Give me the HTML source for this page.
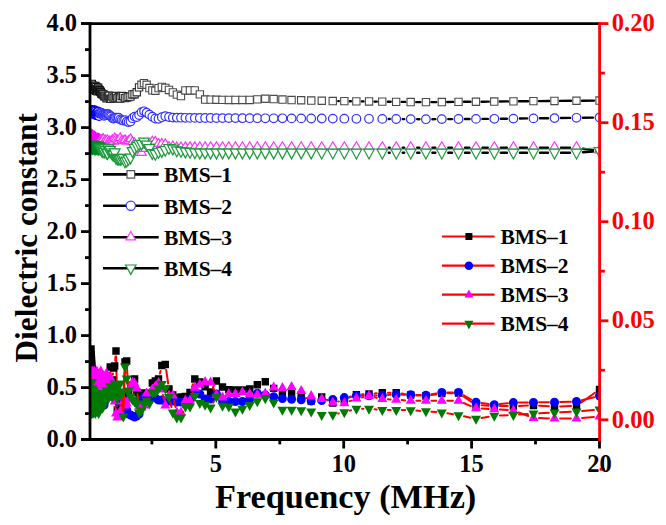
<!DOCTYPE html><html><head><meta charset="utf-8"><style>html,body{margin:0;padding:0;background:#fff;}body{width:666px;height:525px;overflow:hidden}svg{display:block}text{font-family:"Liberation Serif",serif;font-weight:bold}</style></head><body>
<svg width="666" height="525" viewBox="0 0 666 525">
<rect width="666" height="525" fill="#fff"/><defs><clipPath id="pc"><rect x="89.8" y="0" width="509.8" height="525"/></clipPath></defs><g clip-path="url(#pc)">
<path d="M338.3,101.1L338.8,101.1M349.8,101.3L350.9,101.3M361.9,101.4L363.5,101.4M374.5,101.6L376.8,101.6M387.8,101.7L390.7,101.8M401.7,101.9L405.2,101.9M416.2,102.1L420.4,102.1M431.4,102.1L436.3,102.1M447.3,102.0L453.0,101.9M464.0,101.8L470.5,101.8M481.5,101.7L488.8,101.6M499.8,101.5L507.9,101.4M518.9,101.3L528.0,101.2M539.0,101.1L549.0,101.0M560.0,100.9L571.0,100.8M582.0,100.7L594.0,100.6" fill="none" stroke="#000" stroke-width="2.4" stroke-linecap="round"/>
<path d="M87.3,82.6h7.3v7.3h-7.3z" fill="#fff" stroke="#111" stroke-width="1.1"/><path d="M87.5,80.8h7.3v7.3h-7.3z" fill="#fff" stroke="#111" stroke-width="1.1"/><path d="M87.6,82.0h7.3v7.3h-7.3z" fill="#fff" stroke="#111" stroke-width="1.1"/><path d="M87.8,84.0h7.3v7.3h-7.3z" fill="#fff" stroke="#111" stroke-width="1.1"/><path d="M88.0,81.3h7.3v7.3h-7.3z" fill="#fff" stroke="#111" stroke-width="1.1"/><path d="M88.1,80.3h7.3v7.3h-7.3z" fill="#fff" stroke="#111" stroke-width="1.1"/><path d="M88.3,83.1h7.3v7.3h-7.3z" fill="#fff" stroke="#111" stroke-width="1.1"/><path d="M88.5,82.8h7.3v7.3h-7.3z" fill="#fff" stroke="#111" stroke-width="1.1"/><path d="M88.7,84.5h7.3v7.3h-7.3z" fill="#fff" stroke="#111" stroke-width="1.1"/><path d="M88.9,84.8h7.3v7.3h-7.3z" fill="#fff" stroke="#111" stroke-width="1.1"/><path d="M89.1,83.4h7.3v7.3h-7.3z" fill="#fff" stroke="#111" stroke-width="1.1"/><path d="M89.4,82.0h7.3v7.3h-7.3z" fill="#fff" stroke="#111" stroke-width="1.1"/><path d="M89.6,84.0h7.3v7.3h-7.3z" fill="#fff" stroke="#111" stroke-width="1.1"/><path d="M89.9,84.8h7.3v7.3h-7.3z" fill="#fff" stroke="#111" stroke-width="1.1"/><path d="M90.1,82.9h7.3v7.3h-7.3z" fill="#fff" stroke="#111" stroke-width="1.1"/><path d="M90.4,85.6h7.3v7.3h-7.3z" fill="#fff" stroke="#111" stroke-width="1.1"/><path d="M90.7,84.6h7.3v7.3h-7.3z" fill="#fff" stroke="#111" stroke-width="1.1"/><path d="M91.0,84.9h7.3v7.3h-7.3z" fill="#fff" stroke="#111" stroke-width="1.1"/><path d="M91.3,83.2h7.3v7.3h-7.3z" fill="#fff" stroke="#111" stroke-width="1.1"/><path d="M91.6,82.3h7.3v7.3h-7.3z" fill="#fff" stroke="#111" stroke-width="1.1"/><path d="M92.0,86.2h7.3v7.3h-7.3z" fill="#fff" stroke="#111" stroke-width="1.1"/><path d="M92.4,87.2h7.3v7.3h-7.3z" fill="#fff" stroke="#111" stroke-width="1.1"/><path d="M92.7,83.4h7.3v7.3h-7.3z" fill="#fff" stroke="#111" stroke-width="1.1"/><path d="M93.1,85.9h7.3v7.3h-7.3z" fill="#fff" stroke="#111" stroke-width="1.1"/><path d="M93.6,85.8h7.3v7.3h-7.3z" fill="#fff" stroke="#111" stroke-width="1.1"/><path d="M94.0,87.7h7.3v7.3h-7.3z" fill="#fff" stroke="#111" stroke-width="1.1"/><path d="M94.5,84.1h7.3v7.3h-7.3z" fill="#fff" stroke="#111" stroke-width="1.1"/><path d="M94.9,85.9h7.3v7.3h-7.3z" fill="#fff" stroke="#111" stroke-width="1.1"/><path d="M95.4,87.2h7.3v7.3h-7.3z" fill="#fff" stroke="#111" stroke-width="1.1"/><path d="M96.0,86.6h7.3v7.3h-7.3z" fill="#fff" stroke="#111" stroke-width="1.1"/><path d="M96.5,87.7h7.3v7.3h-7.3z" fill="#fff" stroke="#111" stroke-width="1.1"/><path d="M97.1,88.4h7.3v7.3h-7.3z" fill="#fff" stroke="#111" stroke-width="1.1"/><path d="M97.7,89.9h7.3v7.3h-7.3z" fill="#fff" stroke="#111" stroke-width="1.1"/><path d="M98.3,90.4h7.3v7.3h-7.3z" fill="#fff" stroke="#111" stroke-width="1.1"/><path d="M99.0,90.5h7.3v7.3h-7.3z" fill="#fff" stroke="#111" stroke-width="1.1"/><path d="M99.7,90.7h7.3v7.3h-7.3z" fill="#fff" stroke="#111" stroke-width="1.1"/><path d="M100.4,92.6h7.3v7.3h-7.3z" fill="#fff" stroke="#2a2a2a" stroke-width="1.1"/><path d="M101.2,92.1h7.3v7.3h-7.3z" fill="#fff" stroke="#2a2a2a" stroke-width="1.1"/><path d="M102.0,92.8h7.3v7.3h-7.3z" fill="#fff" stroke="#2a2a2a" stroke-width="1.1"/><path d="M102.8,94.6h7.3v7.3h-7.3z" fill="#fff" stroke="#2a2a2a" stroke-width="1.1"/><path d="M103.7,93.5h7.3v7.3h-7.3z" fill="#fff" stroke="#2a2a2a" stroke-width="1.1"/><path d="M104.6,92.1h7.3v7.3h-7.3z" fill="#fff" stroke="#2a2a2a" stroke-width="1.1"/><path d="M105.6,92.3h7.3v7.3h-7.3z" fill="#fff" stroke="#2a2a2a" stroke-width="1.1"/><path d="M106.6,95.1h7.3v7.3h-7.3z" fill="#fff" stroke="#2a2a2a" stroke-width="1.1"/><path d="M107.6,95.2h7.3v7.3h-7.3z" fill="#fff" stroke="#2a2a2a" stroke-width="1.1"/><path d="M108.7,93.0h7.3v7.3h-7.3z" fill="#fff" stroke="#2a2a2a" stroke-width="1.1"/><path d="M109.9,94.5h7.3v7.3h-7.3z" fill="#fff" stroke="#2a2a2a" stroke-width="1.1"/><path d="M111.1,93.7h7.3v7.3h-7.3z" fill="#fff" stroke="#2a2a2a" stroke-width="1.1"/><path d="M112.4,92.4h7.3v7.3h-7.3z" fill="#fff" stroke="#2a2a2a" stroke-width="1.1"/><path d="M113.7,94.6h7.3v7.3h-7.3z" fill="#fff" stroke="#2a2a2a" stroke-width="1.1"/><path d="M115.1,93.6h7.3v7.3h-7.3z" fill="#fff" stroke="#2a2a2a" stroke-width="1.1"/><path d="M116.5,94.8h7.3v7.3h-7.3z" fill="#fff" stroke="#2a2a2a" stroke-width="1.1"/><path d="M118.1,92.3h7.3v7.3h-7.3z" fill="#fff" stroke="#2a2a2a" stroke-width="1.1"/><path d="M119.6,92.5h7.3v7.3h-7.3z" fill="#fff" stroke="#2a2a2a" stroke-width="1.1"/><path d="M121.3,94.5h7.3v7.3h-7.3z" fill="#fff" stroke="#2a2a2a" stroke-width="1.1"/><path d="M123.1,94.0h7.3v7.3h-7.3z" fill="#fff" stroke="#2a2a2a" stroke-width="1.1"/><path d="M124.9,93.3h7.3v7.3h-7.3z" fill="#fff" stroke="#2a2a2a" stroke-width="1.1"/><path d="M126.8,93.0h7.3v7.3h-7.3z" fill="#fff" stroke="#2a2a2a" stroke-width="1.1"/><path d="M128.8,90.8h7.3v7.3h-7.3z" fill="#fff" stroke="#2a2a2a" stroke-width="1.1"/><path d="M130.9,90.6h7.3v7.3h-7.3z" fill="#fff" stroke="#2a2a2a" stroke-width="1.1"/><path d="M133.1,88.6h7.3v7.3h-7.3z" fill="#fff" stroke="#2a2a2a" stroke-width="1.1"/><path d="M135.4,83.7h7.3v7.3h-7.3z" fill="#fff" stroke="#2a2a2a" stroke-width="1.1"/><path d="M137.8,81.1h7.3v7.3h-7.3z" fill="#fff" stroke="#4a4a4a" stroke-width="1.1"/><path d="M140.3,79.5h7.3v7.3h-7.3z" fill="#fff" stroke="#4a4a4a" stroke-width="1.1"/><path d="M143.0,81.1h7.3v7.3h-7.3z" fill="#fff" stroke="#4a4a4a" stroke-width="1.1"/><path d="M145.8,84.4h7.3v7.3h-7.3z" fill="#fff" stroke="#4a4a4a" stroke-width="1.1"/><path d="M148.7,86.7h7.3v7.3h-7.3z" fill="#fff" stroke="#4a4a4a" stroke-width="1.1"/><path d="M151.7,87.1h7.3v7.3h-7.3z" fill="#fff" stroke="#4a4a4a" stroke-width="1.1"/><path d="M154.9,84.5h7.3v7.3h-7.3z" fill="#fff" stroke="#4a4a4a" stroke-width="1.1"/><path d="M158.2,83.2h7.3v7.3h-7.3z" fill="#fff" stroke="#4a4a4a" stroke-width="1.1"/><path d="M161.7,84.2h7.3v7.3h-7.3z" fill="#fff" stroke="#4a4a4a" stroke-width="1.1"/><path d="M165.3,86.3h7.3v7.3h-7.3z" fill="#fff" stroke="#4a4a4a" stroke-width="1.1"/><path d="M169.2,88.7h7.3v7.3h-7.3z" fill="#fff" stroke="#4a4a4a" stroke-width="1.1"/><path d="M173.2,91.0h7.3v7.3h-7.3z" fill="#fff" stroke="#4a4a4a" stroke-width="1.1"/><path d="M177.3,92.4h7.3v7.3h-7.3z" fill="#fff" stroke="#4a4a4a" stroke-width="1.1"/><path d="M181.7,86.8h7.3v7.3h-7.3z" fill="#fff" stroke="#4a4a4a" stroke-width="1.1"/><path d="M186.3,86.8h7.3v7.3h-7.3z" fill="#fff" stroke="#4a4a4a" stroke-width="1.1"/><path d="M191.1,86.8h7.3v7.3h-7.3z" fill="#fff" stroke="#4a4a4a" stroke-width="1.1"/><path d="M196.2,90.7h7.3v7.3h-7.3z" fill="#fff" stroke="#4a4a4a" stroke-width="1.1"/><path d="M201.5,95.9h7.3v7.3h-7.3z" fill="#fff" stroke="#4a4a4a" stroke-width="1.1"/><path d="M207.0,96.0h7.3v7.3h-7.3z" fill="#fff" stroke="#4a4a4a" stroke-width="1.1"/><path d="M212.8,96.1h7.3v7.3h-7.3z" fill="#fff" stroke="#4a4a4a" stroke-width="1.1"/><path d="M218.8,96.2h7.3v7.3h-7.3z" fill="#fff" stroke="#4a4a4a" stroke-width="1.1"/><path d="M225.2,96.3h7.3v7.3h-7.3z" fill="#fff" stroke="#4a4a4a" stroke-width="1.1"/><path d="M231.8,96.3h7.3v7.3h-7.3z" fill="#fff" stroke="#4a4a4a" stroke-width="1.1"/><path d="M238.8,96.3h7.3v7.3h-7.3z" fill="#fff" stroke="#4a4a4a" stroke-width="1.1"/><path d="M246.0,96.3h7.3v7.3h-7.3z" fill="#fff" stroke="#4a4a4a" stroke-width="1.1"/><path d="M253.7,95.7h7.3v7.3h-7.3z" fill="#fff" stroke="#4a4a4a" stroke-width="1.1"/><path d="M261.6,95.1h7.3v7.3h-7.3z" fill="#fff" stroke="#4a4a4a" stroke-width="1.1"/><path d="M270.0,95.4h7.3v7.3h-7.3z" fill="#fff" stroke="#4a4a4a" stroke-width="1.1"/><path d="M278.8,95.9h7.3v7.3h-7.3z" fill="#fff" stroke="#4a4a4a" stroke-width="1.1"/><path d="M287.9,96.4h7.3v7.3h-7.3z" fill="#fff" stroke="#4a4a4a" stroke-width="1.1"/><path d="M297.5,96.6h7.3v7.3h-7.3z" fill="#fff" stroke="#4a4a4a" stroke-width="1.1"/><path d="M307.6,96.9h7.3v7.3h-7.3z" fill="#fff" stroke="#4a4a4a" stroke-width="1.1"/><path d="M318.1,97.1h7.3v7.3h-7.3z" fill="#fff" stroke="#4a4a4a" stroke-width="1.1"/><path d="M329.1,97.4h7.3v7.3h-7.3z" fill="#fff" stroke="#4a4a4a" stroke-width="1.1"/><path d="M340.7,97.5h7.3v7.3h-7.3z" fill="#fff" stroke="#4a4a4a" stroke-width="1.1"/><path d="M352.7,97.7h7.3v7.3h-7.3z" fill="#fff" stroke="#4a4a4a" stroke-width="1.1"/><path d="M365.4,97.8h7.3v7.3h-7.3z" fill="#fff" stroke="#4a4a4a" stroke-width="1.1"/><path d="M378.6,98.0h7.3v7.3h-7.3z" fill="#fff" stroke="#4a4a4a" stroke-width="1.1"/><path d="M392.5,98.2h7.3v7.3h-7.3z" fill="#fff" stroke="#4a4a4a" stroke-width="1.1"/><path d="M407.0,98.4h7.3v7.3h-7.3z" fill="#fff" stroke="#4a4a4a" stroke-width="1.1"/><path d="M422.3,98.5h7.3v7.3h-7.3z" fill="#fff" stroke="#4a4a4a" stroke-width="1.1"/><path d="M438.2,98.4h7.3v7.3h-7.3z" fill="#fff" stroke="#4a4a4a" stroke-width="1.1"/><path d="M454.9,98.2h7.3v7.3h-7.3z" fill="#fff" stroke="#4a4a4a" stroke-width="1.1"/><path d="M472.3,98.1h7.3v7.3h-7.3z" fill="#fff" stroke="#4a4a4a" stroke-width="1.1"/><path d="M490.6,97.9h7.3v7.3h-7.3z" fill="#fff" stroke="#4a4a4a" stroke-width="1.1"/><path d="M509.8,97.7h7.3v7.3h-7.3z" fill="#fff" stroke="#4a4a4a" stroke-width="1.1"/><path d="M529.8,97.5h7.3v7.3h-7.3z" fill="#fff" stroke="#4a4a4a" stroke-width="1.1"/><path d="M550.8,97.3h7.3v7.3h-7.3z" fill="#fff" stroke="#4a4a4a" stroke-width="1.1"/><path d="M572.8,97.1h7.3v7.3h-7.3z" fill="#fff" stroke="#4a4a4a" stroke-width="1.1"/><path d="M595.9,96.9h7.3v7.3h-7.3z" fill="#fff" stroke="#4a4a4a" stroke-width="1.1"/>
<path d="M388.8,119.0L389.7,119.0M402.7,119.1L404.2,119.1M417.2,119.1L419.4,119.2M432.4,119.2L435.3,119.1M448.3,119.1L452.0,119.1M465.0,119.0L469.5,119.0M482.5,118.9L487.8,118.9M500.8,118.8L506.9,118.7M519.9,118.5L527.0,118.4M540.0,118.3L548.0,118.2M561.0,118.0L570.0,117.9M583.0,117.7L593.0,117.6" fill="none" stroke="#000" stroke-width="2.4" stroke-linecap="round"/>
<path d="M86.7,110.4a4.3,4.3 0 1,0 8.6,0a4.3,4.3 0 1,0 -8.6,0z" fill="#fff" stroke="#0000ff" stroke-width="1.7"/><path d="M86.8,111.7a4.3,4.3 0 1,0 8.6,0a4.3,4.3 0 1,0 -8.6,0z" fill="#fff" stroke="#0000ff" stroke-width="1.7"/><path d="M87.0,112.7a4.3,4.3 0 1,0 8.6,0a4.3,4.3 0 1,0 -8.6,0z" fill="#fff" stroke="#0000ff" stroke-width="1.7"/><path d="M87.1,111.0a4.3,4.3 0 1,0 8.6,0a4.3,4.3 0 1,0 -8.6,0z" fill="#fff" stroke="#0000ff" stroke-width="1.7"/><path d="M87.3,110.5a4.3,4.3 0 1,0 8.6,0a4.3,4.3 0 1,0 -8.6,0z" fill="#fff" stroke="#0000ff" stroke-width="1.7"/><path d="M87.5,112.8a4.3,4.3 0 1,0 8.6,0a4.3,4.3 0 1,0 -8.6,0z" fill="#fff" stroke="#0000ff" stroke-width="1.7"/><path d="M87.7,112.8a4.3,4.3 0 1,0 8.6,0a4.3,4.3 0 1,0 -8.6,0z" fill="#fff" stroke="#0000ff" stroke-width="1.7"/><path d="M87.9,110.2a4.3,4.3 0 1,0 8.6,0a4.3,4.3 0 1,0 -8.6,0z" fill="#fff" stroke="#0000ff" stroke-width="1.7"/><path d="M88.1,112.7a4.3,4.3 0 1,0 8.6,0a4.3,4.3 0 1,0 -8.6,0z" fill="#fff" stroke="#0000ff" stroke-width="1.7"/><path d="M88.3,111.1a4.3,4.3 0 1,0 8.6,0a4.3,4.3 0 1,0 -8.6,0z" fill="#fff" stroke="#0000ff" stroke-width="1.7"/><path d="M88.5,113.3a4.3,4.3 0 1,0 8.6,0a4.3,4.3 0 1,0 -8.6,0z" fill="#fff" stroke="#0000ff" stroke-width="1.7"/><path d="M88.7,111.2a4.3,4.3 0 1,0 8.6,0a4.3,4.3 0 1,0 -8.6,0z" fill="#fff" stroke="#0000ff" stroke-width="1.7"/><path d="M89.0,111.5a4.3,4.3 0 1,0 8.6,0a4.3,4.3 0 1,0 -8.6,0z" fill="#fff" stroke="#0000ff" stroke-width="1.7"/><path d="M89.2,111.2a4.3,4.3 0 1,0 8.6,0a4.3,4.3 0 1,0 -8.6,0z" fill="#fff" stroke="#0000ff" stroke-width="1.7"/><path d="M89.5,112.6a4.3,4.3 0 1,0 8.6,0a4.3,4.3 0 1,0 -8.6,0z" fill="#fff" stroke="#0000ff" stroke-width="1.7"/><path d="M89.8,112.9a4.3,4.3 0 1,0 8.6,0a4.3,4.3 0 1,0 -8.6,0z" fill="#fff" stroke="#0000ff" stroke-width="1.7"/><path d="M90.0,110.1a4.3,4.3 0 1,0 8.6,0a4.3,4.3 0 1,0 -8.6,0z" fill="#fff" stroke="#0000ff" stroke-width="1.7"/><path d="M90.3,114.2a4.3,4.3 0 1,0 8.6,0a4.3,4.3 0 1,0 -8.6,0z" fill="#fff" stroke="#0000ff" stroke-width="1.7"/><path d="M90.7,114.4a4.3,4.3 0 1,0 8.6,0a4.3,4.3 0 1,0 -8.6,0z" fill="#fff" stroke="#0000ff" stroke-width="1.7"/><path d="M91.0,111.4a4.3,4.3 0 1,0 8.6,0a4.3,4.3 0 1,0 -8.6,0z" fill="#fff" stroke="#0000ff" stroke-width="1.7"/><path d="M91.3,113.7a4.3,4.3 0 1,0 8.6,0a4.3,4.3 0 1,0 -8.6,0z" fill="#fff" stroke="#0000ff" stroke-width="1.7"/><path d="M91.7,113.7a4.3,4.3 0 1,0 8.6,0a4.3,4.3 0 1,0 -8.6,0z" fill="#fff" stroke="#0000ff" stroke-width="1.7"/><path d="M92.1,114.6a4.3,4.3 0 1,0 8.6,0a4.3,4.3 0 1,0 -8.6,0z" fill="#fff" stroke="#0000ff" stroke-width="1.7"/><path d="M92.5,113.8a4.3,4.3 0 1,0 8.6,0a4.3,4.3 0 1,0 -8.6,0z" fill="#fff" stroke="#0000ff" stroke-width="1.7"/><path d="M92.9,114.3a4.3,4.3 0 1,0 8.6,0a4.3,4.3 0 1,0 -8.6,0z" fill="#fff" stroke="#0000ff" stroke-width="1.7"/><path d="M93.3,115.0a4.3,4.3 0 1,0 8.6,0a4.3,4.3 0 1,0 -8.6,0z" fill="#fff" stroke="#0000ff" stroke-width="1.7"/><path d="M93.8,111.6a4.3,4.3 0 1,0 8.6,0a4.3,4.3 0 1,0 -8.6,0z" fill="#fff" stroke="#0000ff" stroke-width="1.7"/><path d="M94.3,114.2a4.3,4.3 0 1,0 8.6,0a4.3,4.3 0 1,0 -8.6,0z" fill="#fff" stroke="#0000ff" stroke-width="1.7"/><path d="M94.8,116.0a4.3,4.3 0 1,0 8.6,0a4.3,4.3 0 1,0 -8.6,0z" fill="#fff" stroke="#0000ff" stroke-width="1.2"/><path d="M95.3,113.7a4.3,4.3 0 1,0 8.6,0a4.3,4.3 0 1,0 -8.6,0z" fill="#fff" stroke="#0000ff" stroke-width="1.2"/><path d="M95.9,112.7a4.3,4.3 0 1,0 8.6,0a4.3,4.3 0 1,0 -8.6,0z" fill="#fff" stroke="#3030ff" stroke-width="1.2"/><path d="M96.5,113.4a4.3,4.3 0 1,0 8.6,0a4.3,4.3 0 1,0 -8.6,0z" fill="#fff" stroke="#3030ff" stroke-width="1.2"/><path d="M97.1,112.6a4.3,4.3 0 1,0 8.6,0a4.3,4.3 0 1,0 -8.6,0z" fill="#fff" stroke="#3030ff" stroke-width="1.2"/><path d="M97.7,113.4a4.3,4.3 0 1,0 8.6,0a4.3,4.3 0 1,0 -8.6,0z" fill="#fff" stroke="#3030ff" stroke-width="1.2"/><path d="M98.4,114.5a4.3,4.3 0 1,0 8.6,0a4.3,4.3 0 1,0 -8.6,0z" fill="#fff" stroke="#3030ff" stroke-width="1.2"/><path d="M99.1,114.6a4.3,4.3 0 1,0 8.6,0a4.3,4.3 0 1,0 -8.6,0z" fill="#fff" stroke="#3030ff" stroke-width="1.2"/><path d="M99.8,115.8a4.3,4.3 0 1,0 8.6,0a4.3,4.3 0 1,0 -8.6,0z" fill="#fff" stroke="#3030ff" stroke-width="1.2"/><path d="M100.5,114.5a4.3,4.3 0 1,0 8.6,0a4.3,4.3 0 1,0 -8.6,0z" fill="#fff" stroke="#3030ff" stroke-width="1.2"/><path d="M101.3,114.5a4.3,4.3 0 1,0 8.6,0a4.3,4.3 0 1,0 -8.6,0z" fill="#fff" stroke="#3030ff" stroke-width="1.2"/><path d="M102.2,115.1a4.3,4.3 0 1,0 8.6,0a4.3,4.3 0 1,0 -8.6,0z" fill="#fff" stroke="#3030ff" stroke-width="1.2"/><path d="M103.1,114.0a4.3,4.3 0 1,0 8.6,0a4.3,4.3 0 1,0 -8.6,0z" fill="#fff" stroke="#3030ff" stroke-width="1.2"/><path d="M104.0,114.2a4.3,4.3 0 1,0 8.6,0a4.3,4.3 0 1,0 -8.6,0z" fill="#fff" stroke="#3030ff" stroke-width="1.2"/><path d="M104.9,115.1a4.3,4.3 0 1,0 8.6,0a4.3,4.3 0 1,0 -8.6,0z" fill="#fff" stroke="#3030ff" stroke-width="1.2"/><path d="M105.9,115.9a4.3,4.3 0 1,0 8.6,0a4.3,4.3 0 1,0 -8.6,0z" fill="#fff" stroke="#3030ff" stroke-width="1.2"/><path d="M107.0,116.5a4.3,4.3 0 1,0 8.6,0a4.3,4.3 0 1,0 -8.6,0z" fill="#fff" stroke="#3030ff" stroke-width="1.2"/><path d="M108.1,118.1a4.3,4.3 0 1,0 8.6,0a4.3,4.3 0 1,0 -8.6,0z" fill="#fff" stroke="#3030ff" stroke-width="1.2"/><path d="M109.2,118.6a4.3,4.3 0 1,0 8.6,0a4.3,4.3 0 1,0 -8.6,0z" fill="#fff" stroke="#3030ff" stroke-width="1.2"/><path d="M110.4,118.2a4.3,4.3 0 1,0 8.6,0a4.3,4.3 0 1,0 -8.6,0z" fill="#fff" stroke="#3030ff" stroke-width="1.2"/><path d="M111.7,117.6a4.3,4.3 0 1,0 8.6,0a4.3,4.3 0 1,0 -8.6,0z" fill="#fff" stroke="#3030ff" stroke-width="1.2"/><path d="M113.0,118.1a4.3,4.3 0 1,0 8.6,0a4.3,4.3 0 1,0 -8.6,0z" fill="#fff" stroke="#3030ff" stroke-width="1.2"/><path d="M114.4,117.7a4.3,4.3 0 1,0 8.6,0a4.3,4.3 0 1,0 -8.6,0z" fill="#fff" stroke="#3030ff" stroke-width="1.2"/><path d="M115.9,119.5a4.3,4.3 0 1,0 8.6,0a4.3,4.3 0 1,0 -8.6,0z" fill="#fff" stroke="#3030ff" stroke-width="1.2"/><path d="M117.4,120.1a4.3,4.3 0 1,0 8.6,0a4.3,4.3 0 1,0 -8.6,0z" fill="#fff" stroke="#3030ff" stroke-width="1.2"/><path d="M119.0,120.6a4.3,4.3 0 1,0 8.6,0a4.3,4.3 0 1,0 -8.6,0z" fill="#fff" stroke="#3030ff" stroke-width="1.2"/><path d="M120.7,120.1a4.3,4.3 0 1,0 8.6,0a4.3,4.3 0 1,0 -8.6,0z" fill="#fff" stroke="#3030ff" stroke-width="1.2"/><path d="M122.4,121.6a4.3,4.3 0 1,0 8.6,0a4.3,4.3 0 1,0 -8.6,0z" fill="#fff" stroke="#3030ff" stroke-width="1.2"/><path d="M124.2,122.1a4.3,4.3 0 1,0 8.6,0a4.3,4.3 0 1,0 -8.6,0z" fill="#fff" stroke="#3030ff" stroke-width="1.2"/><path d="M126.2,121.6a4.3,4.3 0 1,0 8.6,0a4.3,4.3 0 1,0 -8.6,0z" fill="#fff" stroke="#3030ff" stroke-width="1.2"/><path d="M128.2,118.2a4.3,4.3 0 1,0 8.6,0a4.3,4.3 0 1,0 -8.6,0z" fill="#fff" stroke="#3030ff" stroke-width="1.2"/><path d="M130.3,116.6a4.3,4.3 0 1,0 8.6,0a4.3,4.3 0 1,0 -8.6,0z" fill="#fff" stroke="#3030ff" stroke-width="1.2"/><path d="M132.5,117.1a4.3,4.3 0 1,0 8.6,0a4.3,4.3 0 1,0 -8.6,0z" fill="#fff" stroke="#3030ff" stroke-width="1.2"/><path d="M134.8,115.0a4.3,4.3 0 1,0 8.6,0a4.3,4.3 0 1,0 -8.6,0z" fill="#fff" stroke="#3030ff" stroke-width="1.2"/><path d="M137.2,112.2a4.3,4.3 0 1,0 8.6,0a4.3,4.3 0 1,0 -8.6,0z" fill="#fff" stroke="#3030ff" stroke-width="1.2"/><path d="M139.7,111.3a4.3,4.3 0 1,0 8.6,0a4.3,4.3 0 1,0 -8.6,0z" fill="#fff" stroke="#3030ff" stroke-width="1.2"/><path d="M142.3,112.7a4.3,4.3 0 1,0 8.6,0a4.3,4.3 0 1,0 -8.6,0z" fill="#fff" stroke="#3030ff" stroke-width="1.2"/><path d="M145.1,114.6a4.3,4.3 0 1,0 8.6,0a4.3,4.3 0 1,0 -8.6,0z" fill="#fff" stroke="#3030ff" stroke-width="1.2"/><path d="M148.0,116.7a4.3,4.3 0 1,0 8.6,0a4.3,4.3 0 1,0 -8.6,0z" fill="#fff" stroke="#3030ff" stroke-width="1.2"/><path d="M151.0,118.5a4.3,4.3 0 1,0 8.6,0a4.3,4.3 0 1,0 -8.6,0z" fill="#fff" stroke="#3030ff" stroke-width="1.2"/><path d="M154.2,118.8a4.3,4.3 0 1,0 8.6,0a4.3,4.3 0 1,0 -8.6,0z" fill="#fff" stroke="#3030ff" stroke-width="1.2"/><path d="M157.5,117.2a4.3,4.3 0 1,0 8.6,0a4.3,4.3 0 1,0 -8.6,0z" fill="#fff" stroke="#3030ff" stroke-width="1.2"/><path d="M161.0,116.2a4.3,4.3 0 1,0 8.6,0a4.3,4.3 0 1,0 -8.6,0z" fill="#fff" stroke="#3030ff" stroke-width="1.2"/><path d="M164.7,117.0a4.3,4.3 0 1,0 8.6,0a4.3,4.3 0 1,0 -8.6,0z" fill="#fff" stroke="#3030ff" stroke-width="1.2"/><path d="M168.5,117.6a4.3,4.3 0 1,0 8.6,0a4.3,4.3 0 1,0 -8.6,0z" fill="#fff" stroke="#3030ff" stroke-width="1.2"/><path d="M172.5,117.7a4.3,4.3 0 1,0 8.6,0a4.3,4.3 0 1,0 -8.6,0z" fill="#fff" stroke="#3030ff" stroke-width="1.2"/><path d="M176.7,117.7a4.3,4.3 0 1,0 8.6,0a4.3,4.3 0 1,0 -8.6,0z" fill="#fff" stroke="#3030ff" stroke-width="1.2"/><path d="M181.1,117.8a4.3,4.3 0 1,0 8.6,0a4.3,4.3 0 1,0 -8.6,0z" fill="#fff" stroke="#3030ff" stroke-width="1.2"/><path d="M185.7,117.9a4.3,4.3 0 1,0 8.6,0a4.3,4.3 0 1,0 -8.6,0z" fill="#fff" stroke="#3030ff" stroke-width="1.2"/><path d="M190.5,117.9a4.3,4.3 0 1,0 8.6,0a4.3,4.3 0 1,0 -8.6,0z" fill="#fff" stroke="#3030ff" stroke-width="1.2"/><path d="M195.5,118.0a4.3,4.3 0 1,0 8.6,0a4.3,4.3 0 1,0 -8.6,0z" fill="#fff" stroke="#3030ff" stroke-width="1.2"/><path d="M200.8,118.0a4.3,4.3 0 1,0 8.6,0a4.3,4.3 0 1,0 -8.6,0z" fill="#fff" stroke="#3030ff" stroke-width="1.2"/><path d="M206.3,118.0a4.3,4.3 0 1,0 8.6,0a4.3,4.3 0 1,0 -8.6,0z" fill="#fff" stroke="#3030ff" stroke-width="1.2"/><path d="M212.1,118.1a4.3,4.3 0 1,0 8.6,0a4.3,4.3 0 1,0 -8.6,0z" fill="#fff" stroke="#3030ff" stroke-width="1.2"/><path d="M218.2,118.1a4.3,4.3 0 1,0 8.6,0a4.3,4.3 0 1,0 -8.6,0z" fill="#fff" stroke="#3030ff" stroke-width="1.2"/><path d="M224.5,118.1a4.3,4.3 0 1,0 8.6,0a4.3,4.3 0 1,0 -8.6,0z" fill="#fff" stroke="#3030ff" stroke-width="1.2"/><path d="M231.1,118.1a4.3,4.3 0 1,0 8.6,0a4.3,4.3 0 1,0 -8.6,0z" fill="#fff" stroke="#3030ff" stroke-width="1.2"/><path d="M238.1,118.2a4.3,4.3 0 1,0 8.6,0a4.3,4.3 0 1,0 -8.6,0z" fill="#fff" stroke="#3030ff" stroke-width="1.2"/><path d="M245.4,118.2a4.3,4.3 0 1,0 8.6,0a4.3,4.3 0 1,0 -8.6,0z" fill="#fff" stroke="#3030ff" stroke-width="1.2"/><path d="M253.0,118.2a4.3,4.3 0 1,0 8.6,0a4.3,4.3 0 1,0 -8.6,0z" fill="#fff" stroke="#3030ff" stroke-width="1.2"/><path d="M261.0,118.3a4.3,4.3 0 1,0 8.6,0a4.3,4.3 0 1,0 -8.6,0z" fill="#fff" stroke="#3030ff" stroke-width="1.2"/><path d="M269.4,118.3a4.3,4.3 0 1,0 8.6,0a4.3,4.3 0 1,0 -8.6,0z" fill="#fff" stroke="#3030ff" stroke-width="1.2"/><path d="M278.1,118.3a4.3,4.3 0 1,0 8.6,0a4.3,4.3 0 1,0 -8.6,0z" fill="#fff" stroke="#3030ff" stroke-width="1.2"/><path d="M287.3,118.4a4.3,4.3 0 1,0 8.6,0a4.3,4.3 0 1,0 -8.6,0z" fill="#fff" stroke="#3030ff" stroke-width="1.2"/><path d="M296.9,118.4a4.3,4.3 0 1,0 8.6,0a4.3,4.3 0 1,0 -8.6,0z" fill="#fff" stroke="#3030ff" stroke-width="1.2"/><path d="M306.9,118.5a4.3,4.3 0 1,0 8.6,0a4.3,4.3 0 1,0 -8.6,0z" fill="#fff" stroke="#3030ff" stroke-width="1.2"/><path d="M317.4,118.5a4.3,4.3 0 1,0 8.6,0a4.3,4.3 0 1,0 -8.6,0z" fill="#fff" stroke="#3030ff" stroke-width="1.2"/><path d="M328.5,118.6a4.3,4.3 0 1,0 8.6,0a4.3,4.3 0 1,0 -8.6,0z" fill="#fff" stroke="#3030ff" stroke-width="1.2"/><path d="M340.0,118.7a4.3,4.3 0 1,0 8.6,0a4.3,4.3 0 1,0 -8.6,0z" fill="#fff" stroke="#3030ff" stroke-width="1.2"/><path d="M352.1,118.8a4.3,4.3 0 1,0 8.6,0a4.3,4.3 0 1,0 -8.6,0z" fill="#fff" stroke="#3030ff" stroke-width="1.2"/><path d="M364.7,118.8a4.3,4.3 0 1,0 8.6,0a4.3,4.3 0 1,0 -8.6,0z" fill="#fff" stroke="#3030ff" stroke-width="1.2"/><path d="M378.0,118.9a4.3,4.3 0 1,0 8.6,0a4.3,4.3 0 1,0 -8.6,0z" fill="#fff" stroke="#3030ff" stroke-width="1.2"/><path d="M391.9,119.0a4.3,4.3 0 1,0 8.6,0a4.3,4.3 0 1,0 -8.6,0z" fill="#fff" stroke="#3030ff" stroke-width="1.2"/><path d="M406.4,119.1a4.3,4.3 0 1,0 8.6,0a4.3,4.3 0 1,0 -8.6,0z" fill="#fff" stroke="#3030ff" stroke-width="1.2"/><path d="M421.6,119.2a4.3,4.3 0 1,0 8.6,0a4.3,4.3 0 1,0 -8.6,0z" fill="#fff" stroke="#3030ff" stroke-width="1.2"/><path d="M437.5,119.1a4.3,4.3 0 1,0 8.6,0a4.3,4.3 0 1,0 -8.6,0z" fill="#fff" stroke="#3030ff" stroke-width="1.2"/><path d="M454.2,119.0a4.3,4.3 0 1,0 8.6,0a4.3,4.3 0 1,0 -8.6,0z" fill="#fff" stroke="#3030ff" stroke-width="1.2"/><path d="M471.7,118.9a4.3,4.3 0 1,0 8.6,0a4.3,4.3 0 1,0 -8.6,0z" fill="#fff" stroke="#3030ff" stroke-width="1.2"/><path d="M490.0,118.8a4.3,4.3 0 1,0 8.6,0a4.3,4.3 0 1,0 -8.6,0z" fill="#fff" stroke="#3030ff" stroke-width="1.2"/><path d="M509.1,118.6a4.3,4.3 0 1,0 8.6,0a4.3,4.3 0 1,0 -8.6,0z" fill="#fff" stroke="#3030ff" stroke-width="1.2"/><path d="M529.2,118.4a4.3,4.3 0 1,0 8.6,0a4.3,4.3 0 1,0 -8.6,0z" fill="#fff" stroke="#3030ff" stroke-width="1.2"/><path d="M550.2,118.1a4.3,4.3 0 1,0 8.6,0a4.3,4.3 0 1,0 -8.6,0z" fill="#fff" stroke="#3030ff" stroke-width="1.2"/><path d="M572.2,117.8a4.3,4.3 0 1,0 8.6,0a4.3,4.3 0 1,0 -8.6,0z" fill="#fff" stroke="#3030ff" stroke-width="1.2"/><path d="M595.2,117.5a4.3,4.3 0 1,0 8.6,0a4.3,4.3 0 1,0 -8.6,0z" fill="#fff" stroke="#3030ff" stroke-width="1.2"/>
<path d="M388.8,147.8L389.7,147.8M402.7,147.8L404.2,147.8M417.2,147.8L419.4,147.8M432.4,147.8L435.3,147.8M448.3,147.8L452.0,147.8M465.0,147.8L469.5,147.8M482.5,147.8L487.8,147.8M500.8,147.8L506.9,147.8M519.9,147.8L527.0,147.8M540.0,147.8L548.0,147.8M561.0,147.8L570.0,147.8M582.9,148.7L593.1,150.1" fill="none" stroke="#000" stroke-width="2.4" stroke-linecap="round"/>
<path d="M91.0,130.2L95.8,138.0L86.2,138.0z" fill="#fff" stroke="#ff00ff" stroke-width="1.6"/><path d="M91.1,130.0L95.9,137.8L86.3,137.8z" fill="#fff" stroke="#ff00ff" stroke-width="1.6"/><path d="M91.3,130.6L96.1,138.4L86.5,138.4z" fill="#fff" stroke="#ff00ff" stroke-width="1.6"/><path d="M91.4,131.4L96.2,139.2L86.6,139.2z" fill="#fff" stroke="#ff00ff" stroke-width="1.6"/><path d="M91.6,130.1L96.4,137.9L86.8,137.9z" fill="#fff" stroke="#ff00ff" stroke-width="1.6"/><path d="M91.8,132.0L96.6,139.8L87.0,139.8z" fill="#fff" stroke="#ff00ff" stroke-width="1.6"/><path d="M92.0,131.8L96.8,139.6L87.2,139.6z" fill="#fff" stroke="#ff00ff" stroke-width="1.6"/><path d="M92.2,130.3L97.0,138.1L87.4,138.1z" fill="#fff" stroke="#ff00ff" stroke-width="1.6"/><path d="M92.4,130.8L97.2,138.6L87.6,138.6z" fill="#fff" stroke="#ff00ff" stroke-width="1.6"/><path d="M92.6,131.5L97.4,139.3L87.8,139.3z" fill="#fff" stroke="#ff00ff" stroke-width="1.6"/><path d="M92.8,132.2L97.6,140.0L88.0,140.0z" fill="#fff" stroke="#ff00ff" stroke-width="1.6"/><path d="M93.0,131.0L97.8,138.8L88.2,138.8z" fill="#fff" stroke="#ff00ff" stroke-width="1.6"/><path d="M93.3,132.2L98.1,140.0L88.5,140.0z" fill="#fff" stroke="#ff00ff" stroke-width="1.6"/><path d="M93.5,132.0L98.3,139.8L88.7,139.8z" fill="#fff" stroke="#ff00ff" stroke-width="1.6"/><path d="M93.8,132.8L98.6,140.6L89.0,140.6z" fill="#fff" stroke="#ff00ff" stroke-width="1.6"/><path d="M94.1,133.1L98.9,140.9L89.3,140.9z" fill="#fff" stroke="#ff00ff" stroke-width="1.6"/><path d="M94.3,133.0L99.1,140.8L89.5,140.8z" fill="#fff" stroke="#ff00ff" stroke-width="1.6"/><path d="M94.6,131.7L99.4,139.5L89.8,139.5z" fill="#fff" stroke="#ff00ff" stroke-width="1.6"/><path d="M95.0,132.9L99.8,140.7L90.2,140.7z" fill="#fff" stroke="#ff00ff" stroke-width="1.6"/><path d="M95.3,133.7L100.1,141.5L90.5,141.5z" fill="#fff" stroke="#ff00ff" stroke-width="1.6"/><path d="M95.6,133.6L100.4,141.4L90.8,141.4z" fill="#fff" stroke="#ff00ff" stroke-width="1.6"/><path d="M96.0,134.0L100.8,141.8L91.2,141.8z" fill="#fff" stroke="#ff00ff" stroke-width="1.6"/><path d="M96.4,133.7L101.2,141.5L91.6,141.5z" fill="#fff" stroke="#ff00ff" stroke-width="1.6"/><path d="M96.8,134.3L101.6,142.1L92.0,142.1z" fill="#fff" stroke="#ff00ff" stroke-width="1.6"/><path d="M97.2,133.9L102.0,141.7L92.4,141.7z" fill="#fff" stroke="#ff00ff" stroke-width="1.6"/><path d="M97.6,134.1L102.4,141.9L92.8,141.9z" fill="#fff" stroke="#ff00ff" stroke-width="1.6"/><path d="M98.1,133.9L102.9,141.7L93.3,141.7z" fill="#fff" stroke="#ff00ff" stroke-width="1.6"/><path d="M98.6,134.2L103.4,142.0L93.8,142.0z" fill="#fff" stroke="#ff00ff" stroke-width="1.6"/><path d="M99.1,134.7L103.9,142.5L94.3,142.5z" fill="#fff" stroke="#ff00ff" stroke-width="1.6"/><path d="M99.6,134.5L104.4,142.3L94.8,142.3z" fill="#fff" stroke="#ff00ff" stroke-width="1.6"/><path d="M100.2,135.4L105.0,143.2L95.4,143.2z" fill="#fff" stroke="#ff30ff" stroke-width="1.2"/><path d="M100.8,135.3L105.6,143.1L96.0,143.1z" fill="#fff" stroke="#ff30ff" stroke-width="1.2"/><path d="M101.4,137.4L106.2,145.2L96.6,145.2z" fill="#fff" stroke="#ff30ff" stroke-width="1.2"/><path d="M102.0,134.4L106.8,142.2L97.2,142.2z" fill="#fff" stroke="#ff30ff" stroke-width="1.2"/><path d="M102.7,134.1L107.5,141.9L97.9,141.9z" fill="#fff" stroke="#ff30ff" stroke-width="1.2"/><path d="M103.4,133.9L108.2,141.7L98.6,141.7z" fill="#fff" stroke="#ff30ff" stroke-width="1.2"/><path d="M104.1,136.9L108.9,144.7L99.3,144.7z" fill="#fff" stroke="#ff30ff" stroke-width="1.2"/><path d="M104.8,137.1L109.6,144.9L100.0,144.9z" fill="#fff" stroke="#ff30ff" stroke-width="1.2"/><path d="M105.6,135.1L110.4,142.9L100.8,142.9z" fill="#fff" stroke="#ff30ff" stroke-width="1.2"/><path d="M106.5,136.5L111.3,144.3L101.7,144.3z" fill="#fff" stroke="#ff30ff" stroke-width="1.2"/><path d="M107.4,134.8L112.2,142.6L102.6,142.6z" fill="#fff" stroke="#ff30ff" stroke-width="1.2"/><path d="M108.3,136.9L113.1,144.7L103.5,144.7z" fill="#fff" stroke="#ff30ff" stroke-width="1.2"/><path d="M109.2,136.0L114.0,143.8L104.4,143.8z" fill="#fff" stroke="#ff30ff" stroke-width="1.2"/><path d="M110.2,136.6L115.0,144.4L105.4,144.4z" fill="#fff" stroke="#ff30ff" stroke-width="1.2"/><path d="M111.3,135.9L116.1,143.7L106.5,143.7z" fill="#fff" stroke="#ff30ff" stroke-width="1.2"/><path d="M112.4,134.9L117.2,142.7L107.6,142.7z" fill="#fff" stroke="#ff30ff" stroke-width="1.2"/><path d="M113.5,136.4L118.3,144.2L108.7,144.2z" fill="#fff" stroke="#ff30ff" stroke-width="1.2"/><path d="M114.7,133.0L119.5,140.8L109.9,140.8z" fill="#fff" stroke="#ff30ff" stroke-width="1.2"/><path d="M116.0,134.0L120.8,141.8L111.2,141.8z" fill="#fff" stroke="#ff30ff" stroke-width="1.2"/><path d="M117.3,135.1L122.1,142.9L112.5,142.9z" fill="#fff" stroke="#ff30ff" stroke-width="1.2"/><path d="M118.7,135.7L123.5,143.5L113.9,143.5z" fill="#fff" stroke="#ff30ff" stroke-width="1.2"/><path d="M120.2,132.9L125.0,140.7L115.4,140.7z" fill="#fff" stroke="#ff30ff" stroke-width="1.2"/><path d="M121.7,135.4L126.5,143.2L116.9,143.2z" fill="#fff" stroke="#ff30ff" stroke-width="1.2"/><path d="M123.3,135.7L128.1,143.5L118.5,143.5z" fill="#fff" stroke="#ff30ff" stroke-width="1.2"/><path d="M125.0,134.9L129.8,142.7L120.2,142.7z" fill="#fff" stroke="#ff30ff" stroke-width="1.2"/><path d="M126.7,136.4L131.5,144.2L121.9,144.2z" fill="#fff" stroke="#ff30ff" stroke-width="1.2"/><path d="M128.5,135.6L133.3,143.4L123.7,143.4z" fill="#fff" stroke="#ff30ff" stroke-width="1.2"/><path d="M130.5,133.9L135.3,141.7L125.7,141.7z" fill="#fff" stroke="#ff30ff" stroke-width="1.2"/><path d="M132.5,136.9L137.3,144.7L127.7,144.7z" fill="#fff" stroke="#ff30ff" stroke-width="1.2"/><path d="M134.6,138.0L139.4,145.8L129.8,145.8z" fill="#fff" stroke="#ff30ff" stroke-width="1.2"/><path d="M136.8,143.3L141.6,151.1L132.0,151.1z" fill="#fff" stroke="#ff30ff" stroke-width="1.2"/><path d="M139.1,144.4L143.9,152.2L134.3,152.2z" fill="#fff" stroke="#ff30ff" stroke-width="1.2"/><path d="M141.5,147.5L146.3,155.3L136.7,155.3z" fill="#fff" stroke="#ff30ff" stroke-width="1.2"/><path d="M144.0,143.5L148.8,151.3L139.2,151.3z" fill="#fff" stroke="#ff30ff" stroke-width="1.2"/><path d="M146.6,139.7L151.4,147.5L141.8,147.5z" fill="#fff" stroke="#ff30ff" stroke-width="1.2"/><path d="M149.4,140.5L154.2,148.3L144.6,148.3z" fill="#fff" stroke="#ff30ff" stroke-width="1.2"/><path d="M152.3,136.2L157.1,144.0L147.5,144.0z" fill="#fff" stroke="#ff30ff" stroke-width="1.2"/><path d="M155.3,136.4L160.1,144.2L150.5,144.2z" fill="#fff" stroke="#ff30ff" stroke-width="1.2"/><path d="M158.5,138.6L163.3,146.4L153.7,146.4z" fill="#fff" stroke="#ff30ff" stroke-width="1.2"/><path d="M161.8,138.5L166.6,146.3L157.0,146.3z" fill="#fff" stroke="#ff30ff" stroke-width="1.2"/><path d="M165.3,138.9L170.1,146.7L160.5,146.7z" fill="#fff" stroke="#ff30ff" stroke-width="1.2"/><path d="M169.0,141.7L173.8,149.5L164.2,149.5z" fill="#fff" stroke="#ff30ff" stroke-width="1.2"/><path d="M172.8,141.0L177.6,148.8L168.0,148.8z" fill="#fff" stroke="#ff30ff" stroke-width="1.2"/><path d="M176.8,142.0L181.6,149.8L172.0,149.8z" fill="#fff" stroke="#ff30ff" stroke-width="1.2"/><path d="M181.0,142.0L185.8,149.8L176.2,149.8z" fill="#fff" stroke="#ff30ff" stroke-width="1.2"/><path d="M185.4,141.9L190.2,149.7L180.6,149.7z" fill="#fff" stroke="#ff30ff" stroke-width="1.2"/><path d="M190.0,141.9L194.8,149.7L185.2,149.7z" fill="#fff" stroke="#ff30ff" stroke-width="1.2"/><path d="M194.8,141.9L199.6,149.7L190.0,149.7z" fill="#fff" stroke="#ff30ff" stroke-width="1.2"/><path d="M199.8,141.8L204.6,149.6L195.0,149.6z" fill="#fff" stroke="#ff30ff" stroke-width="1.2"/><path d="M205.1,141.8L209.9,149.6L200.3,149.6z" fill="#fff" stroke="#ff30ff" stroke-width="1.2"/><path d="M210.6,141.8L215.4,149.6L205.8,149.6z" fill="#fff" stroke="#ff30ff" stroke-width="1.2"/><path d="M216.4,141.8L221.2,149.6L211.6,149.6z" fill="#fff" stroke="#ff30ff" stroke-width="1.2"/><path d="M222.5,141.8L227.3,149.6L217.7,149.6z" fill="#fff" stroke="#ff30ff" stroke-width="1.2"/><path d="M228.8,141.8L233.6,149.6L224.0,149.6z" fill="#fff" stroke="#ff30ff" stroke-width="1.2"/><path d="M235.4,141.8L240.2,149.6L230.6,149.6z" fill="#fff" stroke="#ff30ff" stroke-width="1.2"/><path d="M242.4,141.8L247.2,149.6L237.6,149.6z" fill="#fff" stroke="#ff30ff" stroke-width="1.2"/><path d="M249.7,141.8L254.5,149.6L244.9,149.6z" fill="#fff" stroke="#ff30ff" stroke-width="1.2"/><path d="M257.3,141.8L262.1,149.6L252.5,149.6z" fill="#fff" stroke="#ff30ff" stroke-width="1.2"/><path d="M265.3,141.8L270.1,149.6L260.5,149.6z" fill="#fff" stroke="#ff30ff" stroke-width="1.2"/><path d="M273.7,141.8L278.5,149.6L268.9,149.6z" fill="#fff" stroke="#ff30ff" stroke-width="1.2"/><path d="M282.4,141.8L287.2,149.6L277.6,149.6z" fill="#fff" stroke="#ff30ff" stroke-width="1.2"/><path d="M291.6,141.8L296.4,149.6L286.8,149.6z" fill="#fff" stroke="#ff30ff" stroke-width="1.2"/><path d="M301.2,141.8L306.0,149.6L296.4,149.6z" fill="#fff" stroke="#ff30ff" stroke-width="1.2"/><path d="M311.2,141.8L316.0,149.6L306.4,149.6z" fill="#fff" stroke="#ff30ff" stroke-width="1.2"/><path d="M321.7,141.8L326.5,149.6L316.9,149.6z" fill="#fff" stroke="#ff30ff" stroke-width="1.2"/><path d="M332.8,141.8L337.6,149.6L328.0,149.6z" fill="#fff" stroke="#ff30ff" stroke-width="1.2"/><path d="M344.3,141.8L349.1,149.6L339.5,149.6z" fill="#fff" stroke="#ff30ff" stroke-width="1.2"/><path d="M356.4,141.8L361.2,149.6L351.6,149.6z" fill="#fff" stroke="#ff30ff" stroke-width="1.2"/><path d="M369.0,141.8L373.8,149.6L364.2,149.6z" fill="#fff" stroke="#ff30ff" stroke-width="1.2"/><path d="M382.3,141.8L387.1,149.6L377.5,149.6z" fill="#fff" stroke="#ff30ff" stroke-width="1.2"/><path d="M396.2,141.8L401.0,149.6L391.4,149.6z" fill="#fff" stroke="#ff30ff" stroke-width="1.2"/><path d="M410.7,141.8L415.5,149.6L405.9,149.6z" fill="#fff" stroke="#ff30ff" stroke-width="1.2"/><path d="M425.9,141.8L430.7,149.6L421.1,149.6z" fill="#fff" stroke="#ff30ff" stroke-width="1.2"/><path d="M441.8,141.8L446.6,149.6L437.0,149.6z" fill="#fff" stroke="#ff30ff" stroke-width="1.2"/><path d="M458.5,141.8L463.3,149.6L453.7,149.6z" fill="#fff" stroke="#ff30ff" stroke-width="1.2"/><path d="M476.0,141.8L480.8,149.6L471.2,149.6z" fill="#fff" stroke="#ff30ff" stroke-width="1.2"/><path d="M494.3,141.8L499.1,149.6L489.5,149.6z" fill="#fff" stroke="#ff30ff" stroke-width="1.2"/><path d="M513.4,141.8L518.2,149.6L508.6,149.6z" fill="#fff" stroke="#ff30ff" stroke-width="1.2"/><path d="M533.5,141.8L538.3,149.6L528.7,149.6z" fill="#fff" stroke="#ff30ff" stroke-width="1.2"/><path d="M554.5,141.8L559.3,149.6L549.7,149.6z" fill="#fff" stroke="#ff30ff" stroke-width="1.2"/><path d="M576.5,141.8L581.3,149.6L571.7,149.6z" fill="#fff" stroke="#ff30ff" stroke-width="1.2"/><path d="M599.5,145.0L604.3,152.8L594.7,152.8z" fill="#fff" stroke="#ff30ff" stroke-width="1.2"/>
<polyline points="91.0,141.6 91.1,142.1 91.3,141.9 91.4,143.0 91.6,143.5 91.8,141.9 92.0,141.5 92.2,141.6 92.4,144.1 92.6,143.1 92.8,142.4 93.0,143.7 93.3,142.6 93.5,142.4 93.8,143.6 94.1,142.3 94.3,143.0 94.6,142.4 95.0,144.9 95.3,143.0 95.6,143.4 96.0,143.7 96.4,143.0 96.8,144.2 97.2,142.5 97.6,142.6 98.1,145.1 98.6,143.7 99.1,143.4 99.6,144.3 100.2,145.2 100.8,144.3 101.4,145.1 102.0,147.3 102.7,147.7 103.4,146.0 104.1,148.3 104.8,144.9 105.6,146.6 106.5,148.9 107.4,149.6 108.3,144.9 109.2,147.6 110.2,146.3 111.3,149.0 112.4,150.7 113.5,151.1 114.7,148.8 116.0,154.4 117.3,155.1 118.7,155.3 120.2,155.6 121.7,154.8 123.3,154.3 125.0,157.9 126.7,157.2 128.5,155.5 130.5,154.1 132.5,147.6 134.6,144.5 136.8,142.4 139.1,140.7 141.5,140.3 144.0,138.2 146.6,141.2 149.4,144.7 152.3,149.6 155.3,150.5 158.5,148.5 161.8,147.6 165.3,146.5 169.0,144.5 172.8,145.1 176.8,146.9 181.0,147.5 185.4,148.1 190.0,148.4 194.8,148.8 199.8,149.1 205.1,149.1 210.6,149.1 216.4,149.1 222.5,149.1 228.8,149.1 235.4,149.1 242.4,149.1 249.7,149.1 257.3,149.1 265.3,149.1 273.7,149.1 282.4,149.1 291.6,149.1 301.2,149.1 311.2,149.1 321.7,149.2 332.8,149.2 344.3,149.2 356.4,149.2 369.0,149.2 382.3,149.2 396.2,149.2 410.7,149.2 425.9,149.2 441.8,149.2 458.5,149.2 476.0,149.2 494.3,149.2 513.4,149.2 533.5,149.2 554.5,149.2 576.5,149.2 599.5,147.6" fill="none" stroke="#30a850" stroke-width="0.8"/>
<path d="M388.8,152.7L389.7,152.7M402.7,152.7L404.2,152.7M417.2,152.7L419.4,152.7M432.4,152.7L435.3,152.7M448.3,152.7L452.0,152.7M465.0,152.7L469.5,152.7M482.5,152.7L487.8,152.7M500.8,152.7L506.9,152.7M519.9,152.7L527.0,152.7M540.0,152.7L548.0,152.7M561.0,152.7L570.0,152.7M583.0,152.3L593.0,151.6" fill="none" stroke="#000" stroke-width="2.4" stroke-linecap="round"/>
<path d="M91.0,151.4L96.3,141.6L85.7,141.6z" fill="#fff" stroke="#008a20" stroke-width="1.6"/><path d="M91.1,151.9L96.4,142.1L85.8,142.1z" fill="#fff" stroke="#008a20" stroke-width="1.6"/><path d="M91.3,151.7L96.6,141.9L86.0,141.9z" fill="#fff" stroke="#008a20" stroke-width="1.6"/><path d="M91.4,152.8L96.7,143.0L86.1,143.0z" fill="#fff" stroke="#008a20" stroke-width="1.6"/><path d="M91.6,153.3L96.9,143.5L86.3,143.5z" fill="#fff" stroke="#008a20" stroke-width="1.6"/><path d="M91.8,151.7L97.1,141.9L86.5,141.9z" fill="#fff" stroke="#008a20" stroke-width="1.6"/><path d="M92.0,151.3L97.3,141.5L86.7,141.5z" fill="#fff" stroke="#008a20" stroke-width="1.6"/><path d="M92.2,151.4L97.5,141.6L86.9,141.6z" fill="#fff" stroke="#008a20" stroke-width="1.6"/><path d="M92.4,153.9L97.7,144.1L87.1,144.1z" fill="#fff" stroke="#008a20" stroke-width="1.6"/><path d="M92.6,152.9L97.9,143.1L87.3,143.1z" fill="#fff" stroke="#008a20" stroke-width="1.6"/><path d="M92.8,152.2L98.1,142.4L87.5,142.4z" fill="#fff" stroke="#008a20" stroke-width="1.6"/><path d="M93.0,153.5L98.3,143.7L87.7,143.7z" fill="#fff" stroke="#008a20" stroke-width="1.6"/><path d="M93.3,152.4L98.6,142.6L88.0,142.6z" fill="#fff" stroke="#008a20" stroke-width="1.6"/><path d="M93.5,152.2L98.8,142.4L88.2,142.4z" fill="#fff" stroke="#008a20" stroke-width="1.6"/><path d="M93.8,153.4L99.1,143.6L88.5,143.6z" fill="#fff" stroke="#008a20" stroke-width="1.6"/><path d="M94.1,152.1L99.4,142.3L88.8,142.3z" fill="#fff" stroke="#008a20" stroke-width="1.6"/><path d="M94.3,152.8L99.6,143.0L89.0,143.0z" fill="#fff" stroke="#008a20" stroke-width="1.6"/><path d="M94.6,152.2L99.9,142.4L89.3,142.4z" fill="#fff" stroke="#008a20" stroke-width="1.6"/><path d="M95.0,154.7L100.3,144.9L89.7,144.9z" fill="#fff" stroke="#008a20" stroke-width="1.6"/><path d="M95.3,152.8L100.6,143.0L90.0,143.0z" fill="#fff" stroke="#008a20" stroke-width="1.6"/><path d="M95.6,153.2L100.9,143.4L90.3,143.4z" fill="#fff" stroke="#008a20" stroke-width="1.6"/><path d="M96.0,153.5L101.3,143.7L90.7,143.7z" fill="#fff" stroke="#008a20" stroke-width="1.6"/><path d="M96.4,152.8L101.7,143.0L91.1,143.0z" fill="#fff" stroke="#008a20" stroke-width="1.6"/><path d="M96.8,154.0L102.1,144.2L91.5,144.2z" fill="#fff" stroke="#008a20" stroke-width="1.6"/><path d="M97.2,152.3L102.5,142.5L91.9,142.5z" fill="#fff" stroke="#008a20" stroke-width="1.6"/><path d="M97.6,152.4L102.9,142.6L92.3,142.6z" fill="#fff" stroke="#008a20" stroke-width="1.6"/><path d="M98.1,154.9L103.4,145.1L92.8,145.1z" fill="#fff" stroke="#008a20" stroke-width="1.6"/><path d="M98.6,153.5L103.9,143.7L93.3,143.7z" fill="#fff" stroke="#008a20" stroke-width="1.6"/><path d="M99.1,153.2L104.4,143.4L93.8,143.4z" fill="#fff" stroke="#008a20" stroke-width="1.6"/><path d="M99.6,154.1L104.9,144.3L94.3,144.3z" fill="#fff" stroke="#008a20" stroke-width="1.6"/><path d="M100.2,155.0L105.5,145.2L94.9,145.2z" fill="#fff" stroke="#1a9a3a" stroke-width="1.2"/><path d="M100.8,154.1L106.1,144.3L95.5,144.3z" fill="#fff" stroke="#1a9a3a" stroke-width="1.2"/><path d="M101.4,154.9L106.7,145.1L96.1,145.1z" fill="#fff" stroke="#1a9a3a" stroke-width="1.2"/><path d="M102.0,157.1L107.3,147.3L96.7,147.3z" fill="#fff" stroke="#1a9a3a" stroke-width="1.2"/><path d="M102.7,157.5L108.0,147.7L97.4,147.7z" fill="#fff" stroke="#1a9a3a" stroke-width="1.2"/><path d="M103.4,155.8L108.7,146.0L98.1,146.0z" fill="#fff" stroke="#1a9a3a" stroke-width="1.2"/><path d="M104.1,158.1L109.4,148.3L98.8,148.3z" fill="#fff" stroke="#1a9a3a" stroke-width="1.2"/><path d="M104.8,154.7L110.1,144.9L99.5,144.9z" fill="#fff" stroke="#1a9a3a" stroke-width="1.2"/><path d="M105.6,156.4L110.9,146.6L100.3,146.6z" fill="#fff" stroke="#1a9a3a" stroke-width="1.2"/><path d="M106.5,158.7L111.8,148.9L101.2,148.9z" fill="#fff" stroke="#1a9a3a" stroke-width="1.2"/><path d="M107.4,159.4L112.7,149.6L102.1,149.6z" fill="#fff" stroke="#1a9a3a" stroke-width="1.2"/><path d="M108.3,154.7L113.6,144.9L103.0,144.9z" fill="#fff" stroke="#1a9a3a" stroke-width="1.2"/><path d="M109.2,157.4L114.5,147.6L103.9,147.6z" fill="#fff" stroke="#1a9a3a" stroke-width="1.2"/><path d="M110.2,156.1L115.5,146.3L104.9,146.3z" fill="#fff" stroke="#1a9a3a" stroke-width="1.2"/><path d="M111.3,158.8L116.6,149.0L106.0,149.0z" fill="#fff" stroke="#1a9a3a" stroke-width="1.2"/><path d="M112.4,160.5L117.7,150.7L107.1,150.7z" fill="#fff" stroke="#1a9a3a" stroke-width="1.2"/><path d="M113.5,160.9L118.8,151.1L108.2,151.1z" fill="#fff" stroke="#1a9a3a" stroke-width="1.2"/><path d="M114.7,158.6L120.0,148.8L109.4,148.8z" fill="#fff" stroke="#1a9a3a" stroke-width="1.2"/><path d="M116.0,164.2L121.3,154.4L110.7,154.4z" fill="#fff" stroke="#1a9a3a" stroke-width="1.2"/><path d="M117.3,164.9L122.6,155.1L112.0,155.1z" fill="#fff" stroke="#1a9a3a" stroke-width="1.2"/><path d="M118.7,165.1L124.0,155.3L113.4,155.3z" fill="#fff" stroke="#1a9a3a" stroke-width="1.2"/><path d="M120.2,165.4L125.5,155.6L114.9,155.6z" fill="#fff" stroke="#1a9a3a" stroke-width="1.2"/><path d="M121.7,164.6L127.0,154.8L116.4,154.8z" fill="#fff" stroke="#1a9a3a" stroke-width="1.2"/><path d="M123.3,164.1L128.6,154.3L118.0,154.3z" fill="#fff" stroke="#1a9a3a" stroke-width="1.2"/><path d="M125.0,167.7L130.3,157.9L119.7,157.9z" fill="#fff" stroke="#1a9a3a" stroke-width="1.2"/><path d="M126.7,167.0L132.0,157.2L121.4,157.2z" fill="#fff" stroke="#1a9a3a" stroke-width="1.2"/><path d="M128.5,165.3L133.8,155.5L123.2,155.5z" fill="#fff" stroke="#1a9a3a" stroke-width="1.2"/><path d="M130.5,163.9L135.8,154.1L125.2,154.1z" fill="#fff" stroke="#1a9a3a" stroke-width="1.2"/><path d="M132.5,157.4L137.8,147.6L127.2,147.6z" fill="#fff" stroke="#1a9a3a" stroke-width="1.2"/><path d="M134.6,154.3L139.9,144.5L129.3,144.5z" fill="#fff" stroke="#1a9a3a" stroke-width="1.2"/><path d="M136.8,152.2L142.1,142.4L131.5,142.4z" fill="#fff" stroke="#1a9a3a" stroke-width="1.2"/><path d="M139.1,150.5L144.4,140.7L133.8,140.7z" fill="#fff" stroke="#1a9a3a" stroke-width="1.2"/><path d="M141.5,150.1L146.8,140.3L136.2,140.3z" fill="#fff" stroke="#1a9a3a" stroke-width="1.2"/><path d="M144.0,148.0L149.3,138.2L138.7,138.2z" fill="#fff" stroke="#1a9a3a" stroke-width="1.2"/><path d="M146.6,151.0L151.9,141.2L141.3,141.2z" fill="#fff" stroke="#1a9a3a" stroke-width="1.2"/><path d="M149.4,154.5L154.7,144.7L144.1,144.7z" fill="#fff" stroke="#1a9a3a" stroke-width="1.2"/><path d="M152.3,159.4L157.6,149.6L147.0,149.6z" fill="#fff" stroke="#1a9a3a" stroke-width="1.2"/><path d="M155.3,160.3L160.6,150.5L150.0,150.5z" fill="#fff" stroke="#1a9a3a" stroke-width="1.2"/><path d="M158.5,158.3L163.8,148.5L153.2,148.5z" fill="#fff" stroke="#1a9a3a" stroke-width="1.2"/><path d="M161.8,157.4L167.1,147.6L156.5,147.6z" fill="#fff" stroke="#1a9a3a" stroke-width="1.2"/><path d="M165.3,156.3L170.6,146.5L160.0,146.5z" fill="#fff" stroke="#1a9a3a" stroke-width="1.2"/><path d="M169.0,154.3L174.3,144.5L163.7,144.5z" fill="#fff" stroke="#1a9a3a" stroke-width="1.2"/><path d="M172.8,154.9L178.1,145.1L167.5,145.1z" fill="#fff" stroke="#1a9a3a" stroke-width="1.2"/><path d="M176.8,156.7L182.1,146.9L171.5,146.9z" fill="#fff" stroke="#1a9a3a" stroke-width="1.2"/><path d="M181.0,157.3L186.3,147.5L175.7,147.5z" fill="#fff" stroke="#1a9a3a" stroke-width="1.2"/><path d="M185.4,157.9L190.7,148.1L180.1,148.1z" fill="#fff" stroke="#1a9a3a" stroke-width="1.2"/><path d="M190.0,158.2L195.3,148.4L184.7,148.4z" fill="#fff" stroke="#1a9a3a" stroke-width="1.2"/><path d="M194.8,158.6L200.1,148.8L189.5,148.8z" fill="#fff" stroke="#1a9a3a" stroke-width="1.2"/><path d="M199.8,158.9L205.1,149.1L194.5,149.1z" fill="#fff" stroke="#1a9a3a" stroke-width="1.2"/><path d="M205.1,158.9L210.4,149.1L199.8,149.1z" fill="#fff" stroke="#1a9a3a" stroke-width="1.2"/><path d="M210.6,158.9L215.9,149.1L205.3,149.1z" fill="#fff" stroke="#1a9a3a" stroke-width="1.2"/><path d="M216.4,158.9L221.7,149.1L211.1,149.1z" fill="#fff" stroke="#1a9a3a" stroke-width="1.2"/><path d="M222.5,158.9L227.8,149.1L217.2,149.1z" fill="#fff" stroke="#1a9a3a" stroke-width="1.2"/><path d="M228.8,158.9L234.1,149.1L223.5,149.1z" fill="#fff" stroke="#1a9a3a" stroke-width="1.2"/><path d="M235.4,158.9L240.7,149.1L230.1,149.1z" fill="#fff" stroke="#1a9a3a" stroke-width="1.2"/><path d="M242.4,158.9L247.7,149.1L237.1,149.1z" fill="#fff" stroke="#1a9a3a" stroke-width="1.2"/><path d="M249.7,158.9L255.0,149.1L244.4,149.1z" fill="#fff" stroke="#1a9a3a" stroke-width="1.2"/><path d="M257.3,158.9L262.6,149.1L252.0,149.1z" fill="#fff" stroke="#1a9a3a" stroke-width="1.2"/><path d="M265.3,158.9L270.6,149.1L260.0,149.1z" fill="#fff" stroke="#1a9a3a" stroke-width="1.2"/><path d="M273.7,158.9L279.0,149.1L268.4,149.1z" fill="#fff" stroke="#1a9a3a" stroke-width="1.2"/><path d="M282.4,158.9L287.7,149.1L277.1,149.1z" fill="#fff" stroke="#1a9a3a" stroke-width="1.2"/><path d="M291.6,158.9L296.9,149.1L286.3,149.1z" fill="#fff" stroke="#1a9a3a" stroke-width="1.2"/><path d="M301.2,158.9L306.5,149.1L295.9,149.1z" fill="#fff" stroke="#1a9a3a" stroke-width="1.2"/><path d="M311.2,158.9L316.5,149.1L305.9,149.1z" fill="#fff" stroke="#1a9a3a" stroke-width="1.2"/><path d="M321.7,159.0L327.0,149.2L316.4,149.2z" fill="#fff" stroke="#1a9a3a" stroke-width="1.2"/><path d="M332.8,159.0L338.1,149.2L327.5,149.2z" fill="#fff" stroke="#1a9a3a" stroke-width="1.2"/><path d="M344.3,159.0L349.6,149.2L339.0,149.2z" fill="#fff" stroke="#1a9a3a" stroke-width="1.2"/><path d="M356.4,159.0L361.7,149.2L351.1,149.2z" fill="#fff" stroke="#1a9a3a" stroke-width="1.2"/><path d="M369.0,159.0L374.3,149.2L363.7,149.2z" fill="#fff" stroke="#1a9a3a" stroke-width="1.2"/><path d="M382.3,159.0L387.6,149.2L377.0,149.2z" fill="#fff" stroke="#1a9a3a" stroke-width="1.2"/><path d="M396.2,159.0L401.5,149.2L390.9,149.2z" fill="#fff" stroke="#1a9a3a" stroke-width="1.2"/><path d="M410.7,159.0L416.0,149.2L405.4,149.2z" fill="#fff" stroke="#1a9a3a" stroke-width="1.2"/><path d="M425.9,159.0L431.2,149.2L420.6,149.2z" fill="#fff" stroke="#1a9a3a" stroke-width="1.2"/><path d="M441.8,159.0L447.1,149.2L436.5,149.2z" fill="#fff" stroke="#1a9a3a" stroke-width="1.2"/><path d="M458.5,159.0L463.8,149.2L453.2,149.2z" fill="#fff" stroke="#1a9a3a" stroke-width="1.2"/><path d="M476.0,159.0L481.3,149.2L470.7,149.2z" fill="#fff" stroke="#1a9a3a" stroke-width="1.2"/><path d="M494.3,159.0L499.6,149.2L489.0,149.2z" fill="#fff" stroke="#1a9a3a" stroke-width="1.2"/><path d="M513.4,159.0L518.7,149.2L508.1,149.2z" fill="#fff" stroke="#1a9a3a" stroke-width="1.2"/><path d="M533.5,159.0L538.8,149.2L528.2,149.2z" fill="#fff" stroke="#1a9a3a" stroke-width="1.2"/><path d="M554.5,159.0L559.8,149.2L549.2,149.2z" fill="#fff" stroke="#1a9a3a" stroke-width="1.2"/><path d="M576.5,159.0L581.8,149.2L571.2,149.2z" fill="#fff" stroke="#1a9a3a" stroke-width="1.2"/><path d="M599.5,157.4L604.8,147.6L594.2,147.6z" fill="#fff" stroke="#1a9a3a" stroke-width="1.2"/>
<path d="M109.5,384.4L110.0,372.6M110.6,372.6L111.0,379.4M112.9,374.4L113.0,373.6M115.2,360.4L115.5,356.6M116.1,356.6L117.2,404.4M123.6,389.4L124.7,367.6M127.0,366.6L128.2,389.4M131.3,392.5L131.6,390.5M135.5,384.5L135.8,386.5M150.7,389.6L151.0,388.4M159.9,373.6L160.5,370.9M166.2,370.0L168.2,383.5M191.9,387.2L192.9,384.3M213.2,387.0L213.8,385.9M306.0,397.9L306.4,398.1M326.7,399.7L327.8,400.3M338.2,401.6L338.9,401.4M349.4,397.7L351.3,396.9M362.0,394.3L363.5,394.3M374.6,393.5L376.7,393.3M387.9,392.8L390.6,392.8M401.7,393.6L405.2,394.2M416.3,395.4L420.3,395.6M431.4,395.1L436.3,394.4M447.4,393.3L452.9,393.2M463.1,396.2L471.4,401.8M481.6,405.3L488.7,405.7M499.9,406.0L507.8,406.0M519.0,405.9L527.9,405.6M539.1,405.8L548.9,406.2M560.1,406.4L570.9,406.1M581.0,402.7L594.9,392.8" fill="none" stroke="#f00" stroke-width="2" stroke-linecap="round"/>
<path d="M87.3,345.3h7.4v7.4h-7.4zM87.4,348.1h7.4v7.4h-7.4zM87.6,350.9h7.4v7.4h-7.4zM87.7,353.7h7.4v7.4h-7.4zM87.9,356.4h7.4v7.4h-7.4zM88.1,359.2h7.4v7.4h-7.4zM88.3,362.0h7.4v7.4h-7.4zM88.5,364.8h7.4v7.4h-7.4zM88.7,367.6h7.4v7.4h-7.4zM88.9,370.4h7.4v7.4h-7.4zM89.1,373.2h7.4v7.4h-7.4zM89.3,375.9h7.4v7.4h-7.4zM89.6,378.7h7.4v7.4h-7.4zM89.8,381.5h7.4v7.4h-7.4zM90.1,384.3h7.4v7.4h-7.4zM90.4,387.1h7.4v7.4h-7.4zM90.6,382.3h7.4v7.4h-7.4zM90.9,387.1h7.4v7.4h-7.4zM91.3,391.9h7.4v7.4h-7.4zM91.6,391.9h7.4v7.4h-7.4zM91.9,387.1h7.4v7.4h-7.4zM92.3,382.3h7.4v7.4h-7.4zM92.7,387.1h7.4v7.4h-7.4zM93.1,391.9h7.4v7.4h-7.4zM93.5,391.9h7.4v7.4h-7.4zM93.9,387.1h7.4v7.4h-7.4zM94.4,382.3h7.4v7.4h-7.4zM94.9,387.1h7.4v7.4h-7.4zM95.4,391.9h7.4v7.4h-7.4zM95.9,391.9h7.4v7.4h-7.4zM96.5,387.1h7.4v7.4h-7.4zM97.1,382.3h7.4v7.4h-7.4zM97.7,387.1h7.4v7.4h-7.4zM98.3,391.9h7.4v7.4h-7.4zM99.0,391.9h7.4v7.4h-7.4zM99.7,387.1h7.4v7.4h-7.4zM100.4,382.3h7.4v7.4h-7.4zM101.1,387.1h7.4v7.4h-7.4zM101.9,391.9h7.4v7.4h-7.4zM102.8,391.9h7.4v7.4h-7.4zM103.7,387.1h7.4v7.4h-7.4zM104.6,388.3h7.4v7.4h-7.4zM105.5,386.3h7.4v7.4h-7.4zM106.5,363.3h7.4v7.4h-7.4zM107.6,381.3h7.4v7.4h-7.4zM108.7,376.3h7.4v7.4h-7.4zM109.8,364.3h7.4v7.4h-7.4zM111.0,362.3h7.4v7.4h-7.4zM112.3,347.3h7.4v7.4h-7.4zM113.6,406.3h7.4v7.4h-7.4zM115.0,398.3h7.4v7.4h-7.4zM116.5,394.3h7.4v7.4h-7.4zM118.0,401.3h7.4v7.4h-7.4zM119.6,391.3h7.4v7.4h-7.4zM121.3,358.3h7.4v7.4h-7.4zM123.0,357.3h7.4v7.4h-7.4zM124.8,391.3h7.4v7.4h-7.4zM126.8,394.3h7.4v7.4h-7.4zM128.8,381.3h7.4v7.4h-7.4zM130.9,375.3h7.4v7.4h-7.4zM133.1,388.3h7.4v7.4h-7.4zM135.4,394.3h7.4v7.4h-7.4zM137.8,391.3h7.4v7.4h-7.4zM140.3,389.3h7.4v7.4h-7.4zM142.9,392.3h7.4v7.4h-7.4zM145.7,391.3h7.4v7.4h-7.4zM148.6,379.3h7.4v7.4h-7.4zM151.6,377.3h7.4v7.4h-7.4zM154.8,375.3h7.4v7.4h-7.4zM158.1,361.8h7.4v7.4h-7.4zM161.6,360.8h7.4v7.4h-7.4zM165.3,385.3h7.4v7.4h-7.4zM169.1,391.3h7.4v7.4h-7.4zM173.1,394.3h7.4v7.4h-7.4zM177.3,393.3h7.4v7.4h-7.4zM181.7,392.8h7.4v7.4h-7.4zM186.3,388.8h7.4v7.4h-7.4zM191.1,375.3h7.4v7.4h-7.4zM196.1,378.3h7.4v7.4h-7.4zM201.4,383.0h7.4v7.4h-7.4zM206.9,388.2h7.4v7.4h-7.4zM212.7,377.3h7.4v7.4h-7.4zM218.8,383.3h7.4v7.4h-7.4zM225.1,385.9h7.4v7.4h-7.4zM231.7,386.3h7.4v7.4h-7.4zM238.7,386.3h7.4v7.4h-7.4zM246.0,385.3h7.4v7.4h-7.4zM253.6,381.1h7.4v7.4h-7.4zM261.6,378.1h7.4v7.4h-7.4zM270.0,384.7h7.4v7.4h-7.4zM278.7,390.1h7.4v7.4h-7.4zM287.9,390.1h7.4v7.4h-7.4zM297.5,391.3h7.4v7.4h-7.4zM307.5,397.3h7.4v7.4h-7.4zM318.0,393.3h7.4v7.4h-7.4zM329.1,399.3h7.4v7.4h-7.4zM340.6,396.3h7.4v7.4h-7.4zM352.7,390.9h7.4v7.4h-7.4zM365.3,390.3h7.4v7.4h-7.4zM378.6,389.1h7.4v7.4h-7.4zM392.5,389.1h7.4v7.4h-7.4zM407.0,391.3h7.4v7.4h-7.4zM422.2,392.3h7.4v7.4h-7.4zM438.1,389.8h7.4v7.4h-7.4zM454.8,389.3h7.4v7.4h-7.4zM472.3,401.3h7.4v7.4h-7.4zM490.6,402.3h7.4v7.4h-7.4zM509.7,402.3h7.4v7.4h-7.4zM529.8,401.8h7.4v7.4h-7.4zM550.8,402.8h7.4v7.4h-7.4zM572.8,402.3h7.4v7.4h-7.4zM595.8,385.8h7.4v7.4h-7.4z" fill="#000"/>
<path d="M140.0,408.5L140.5,405.5M349.8,396.8L350.9,396.6M362.0,395.8L363.4,395.8M374.6,395.5L376.7,395.5M387.9,395.0L390.6,394.8M401.8,394.7L405.1,394.7M416.3,394.9L420.3,395.1M431.4,394.3L436.3,393.4M447.4,392.5L452.9,392.4M463.4,395.2L471.1,399.5M481.5,403.0L488.7,404.0M499.8,404.1L507.9,403.2M519.0,402.5L527.9,402.5M539.1,402.3L548.9,402.3M560.1,402.0L570.9,401.7M581.9,400.2L594.1,397.3" fill="none" stroke="#f00" stroke-width="2" stroke-linecap="round"/>
<path d="M86.5,405.0a4.5,4.5 0 1,0 9,0a4.5,4.5 0 1,0 -9,0zM86.6,400.3a4.5,4.5 0 1,0 9,0a4.5,4.5 0 1,0 -9,0zM86.8,395.7a4.5,4.5 0 1,0 9,0a4.5,4.5 0 1,0 -9,0zM86.9,391.0a4.5,4.5 0 1,0 9,0a4.5,4.5 0 1,0 -9,0zM87.1,395.7a4.5,4.5 0 1,0 9,0a4.5,4.5 0 1,0 -9,0zM87.3,400.3a4.5,4.5 0 1,0 9,0a4.5,4.5 0 1,0 -9,0zM87.5,405.0a4.5,4.5 0 1,0 9,0a4.5,4.5 0 1,0 -9,0zM87.7,400.3a4.5,4.5 0 1,0 9,0a4.5,4.5 0 1,0 -9,0zM87.9,395.7a4.5,4.5 0 1,0 9,0a4.5,4.5 0 1,0 -9,0zM88.1,391.0a4.5,4.5 0 1,0 9,0a4.5,4.5 0 1,0 -9,0zM88.3,395.7a4.5,4.5 0 1,0 9,0a4.5,4.5 0 1,0 -9,0zM88.5,400.3a4.5,4.5 0 1,0 9,0a4.5,4.5 0 1,0 -9,0zM88.8,405.0a4.5,4.5 0 1,0 9,0a4.5,4.5 0 1,0 -9,0zM89.0,400.3a4.5,4.5 0 1,0 9,0a4.5,4.5 0 1,0 -9,0zM89.3,395.7a4.5,4.5 0 1,0 9,0a4.5,4.5 0 1,0 -9,0zM89.6,391.0a4.5,4.5 0 1,0 9,0a4.5,4.5 0 1,0 -9,0zM89.8,395.7a4.5,4.5 0 1,0 9,0a4.5,4.5 0 1,0 -9,0zM90.1,400.3a4.5,4.5 0 1,0 9,0a4.5,4.5 0 1,0 -9,0zM90.5,405.0a4.5,4.5 0 1,0 9,0a4.5,4.5 0 1,0 -9,0zM90.8,400.3a4.5,4.5 0 1,0 9,0a4.5,4.5 0 1,0 -9,0zM91.1,395.7a4.5,4.5 0 1,0 9,0a4.5,4.5 0 1,0 -9,0zM91.5,391.0a4.5,4.5 0 1,0 9,0a4.5,4.5 0 1,0 -9,0zM91.9,395.7a4.5,4.5 0 1,0 9,0a4.5,4.5 0 1,0 -9,0zM92.3,400.3a4.5,4.5 0 1,0 9,0a4.5,4.5 0 1,0 -9,0zM92.7,405.0a4.5,4.5 0 1,0 9,0a4.5,4.5 0 1,0 -9,0zM93.1,400.3a4.5,4.5 0 1,0 9,0a4.5,4.5 0 1,0 -9,0zM93.6,395.7a4.5,4.5 0 1,0 9,0a4.5,4.5 0 1,0 -9,0zM94.1,391.0a4.5,4.5 0 1,0 9,0a4.5,4.5 0 1,0 -9,0zM94.6,395.7a4.5,4.5 0 1,0 9,0a4.5,4.5 0 1,0 -9,0zM95.1,400.3a4.5,4.5 0 1,0 9,0a4.5,4.5 0 1,0 -9,0zM95.7,405.0a4.5,4.5 0 1,0 9,0a4.5,4.5 0 1,0 -9,0zM96.3,400.3a4.5,4.5 0 1,0 9,0a4.5,4.5 0 1,0 -9,0zM96.9,395.7a4.5,4.5 0 1,0 9,0a4.5,4.5 0 1,0 -9,0zM97.5,391.0a4.5,4.5 0 1,0 9,0a4.5,4.5 0 1,0 -9,0zM98.2,395.7a4.5,4.5 0 1,0 9,0a4.5,4.5 0 1,0 -9,0zM98.9,400.3a4.5,4.5 0 1,0 9,0a4.5,4.5 0 1,0 -9,0zM99.6,405.0a4.5,4.5 0 1,0 9,0a4.5,4.5 0 1,0 -9,0zM100.3,400.3a4.5,4.5 0 1,0 9,0a4.5,4.5 0 1,0 -9,0zM101.1,395.7a4.5,4.5 0 1,0 9,0a4.5,4.5 0 1,0 -9,0zM102.0,391.0a4.5,4.5 0 1,0 9,0a4.5,4.5 0 1,0 -9,0zM102.9,395.7a4.5,4.5 0 1,0 9,0a4.5,4.5 0 1,0 -9,0zM103.8,395.0a4.5,4.5 0 1,0 9,0a4.5,4.5 0 1,0 -9,0zM104.7,396.0a4.5,4.5 0 1,0 9,0a4.5,4.5 0 1,0 -9,0zM105.7,395.0a4.5,4.5 0 1,0 9,0a4.5,4.5 0 1,0 -9,0zM106.8,394.0a4.5,4.5 0 1,0 9,0a4.5,4.5 0 1,0 -9,0zM107.9,395.0a4.5,4.5 0 1,0 9,0a4.5,4.5 0 1,0 -9,0zM109.0,396.0a4.5,4.5 0 1,0 9,0a4.5,4.5 0 1,0 -9,0zM110.2,398.0a4.5,4.5 0 1,0 9,0a4.5,4.5 0 1,0 -9,0zM111.5,400.0a4.5,4.5 0 1,0 9,0a4.5,4.5 0 1,0 -9,0zM112.8,400.0a4.5,4.5 0 1,0 9,0a4.5,4.5 0 1,0 -9,0zM114.2,400.0a4.5,4.5 0 1,0 9,0a4.5,4.5 0 1,0 -9,0zM115.7,398.0a4.5,4.5 0 1,0 9,0a4.5,4.5 0 1,0 -9,0zM117.2,400.0a4.5,4.5 0 1,0 9,0a4.5,4.5 0 1,0 -9,0zM118.8,400.0a4.5,4.5 0 1,0 9,0a4.5,4.5 0 1,0 -9,0zM120.5,405.0a4.5,4.5 0 1,0 9,0a4.5,4.5 0 1,0 -9,0zM122.2,410.0a4.5,4.5 0 1,0 9,0a4.5,4.5 0 1,0 -9,0zM124.0,414.0a4.5,4.5 0 1,0 9,0a4.5,4.5 0 1,0 -9,0zM126.0,415.0a4.5,4.5 0 1,0 9,0a4.5,4.5 0 1,0 -9,0zM128.0,416.0a4.5,4.5 0 1,0 9,0a4.5,4.5 0 1,0 -9,0zM130.1,417.0a4.5,4.5 0 1,0 9,0a4.5,4.5 0 1,0 -9,0zM132.3,416.0a4.5,4.5 0 1,0 9,0a4.5,4.5 0 1,0 -9,0zM134.6,414.0a4.5,4.5 0 1,0 9,0a4.5,4.5 0 1,0 -9,0zM137.0,400.0a4.5,4.5 0 1,0 9,0a4.5,4.5 0 1,0 -9,0zM139.5,397.0a4.5,4.5 0 1,0 9,0a4.5,4.5 0 1,0 -9,0zM142.1,398.0a4.5,4.5 0 1,0 9,0a4.5,4.5 0 1,0 -9,0zM144.9,398.0a4.5,4.5 0 1,0 9,0a4.5,4.5 0 1,0 -9,0zM147.8,397.0a4.5,4.5 0 1,0 9,0a4.5,4.5 0 1,0 -9,0zM150.8,398.0a4.5,4.5 0 1,0 9,0a4.5,4.5 0 1,0 -9,0zM154.0,400.0a4.5,4.5 0 1,0 9,0a4.5,4.5 0 1,0 -9,0zM157.3,400.0a4.5,4.5 0 1,0 9,0a4.5,4.5 0 1,0 -9,0zM160.8,401.0a4.5,4.5 0 1,0 9,0a4.5,4.5 0 1,0 -9,0zM164.5,401.0a4.5,4.5 0 1,0 9,0a4.5,4.5 0 1,0 -9,0zM168.3,401.0a4.5,4.5 0 1,0 9,0a4.5,4.5 0 1,0 -9,0zM172.3,402.0a4.5,4.5 0 1,0 9,0a4.5,4.5 0 1,0 -9,0zM176.5,402.0a4.5,4.5 0 1,0 9,0a4.5,4.5 0 1,0 -9,0zM180.9,402.0a4.5,4.5 0 1,0 9,0a4.5,4.5 0 1,0 -9,0zM185.5,400.0a4.5,4.5 0 1,0 9,0a4.5,4.5 0 1,0 -9,0zM190.3,394.0a4.5,4.5 0 1,0 9,0a4.5,4.5 0 1,0 -9,0zM195.3,394.0a4.5,4.5 0 1,0 9,0a4.5,4.5 0 1,0 -9,0zM200.6,399.0a4.5,4.5 0 1,0 9,0a4.5,4.5 0 1,0 -9,0zM206.1,399.0a4.5,4.5 0 1,0 9,0a4.5,4.5 0 1,0 -9,0zM211.9,394.0a4.5,4.5 0 1,0 9,0a4.5,4.5 0 1,0 -9,0zM218.0,401.0a4.5,4.5 0 1,0 9,0a4.5,4.5 0 1,0 -9,0zM224.3,401.5a4.5,4.5 0 1,0 9,0a4.5,4.5 0 1,0 -9,0zM230.9,401.5a4.5,4.5 0 1,0 9,0a4.5,4.5 0 1,0 -9,0zM237.9,401.5a4.5,4.5 0 1,0 9,0a4.5,4.5 0 1,0 -9,0zM245.2,399.2a4.5,4.5 0 1,0 9,0a4.5,4.5 0 1,0 -9,0zM252.8,393.2a4.5,4.5 0 1,0 9,0a4.5,4.5 0 1,0 -9,0zM260.8,395.0a4.5,4.5 0 1,0 9,0a4.5,4.5 0 1,0 -9,0zM269.2,396.8a4.5,4.5 0 1,0 9,0a4.5,4.5 0 1,0 -9,0zM277.9,398.6a4.5,4.5 0 1,0 9,0a4.5,4.5 0 1,0 -9,0zM287.1,399.2a4.5,4.5 0 1,0 9,0a4.5,4.5 0 1,0 -9,0zM296.7,399.8a4.5,4.5 0 1,0 9,0a4.5,4.5 0 1,0 -9,0zM306.7,401.0a4.5,4.5 0 1,0 9,0a4.5,4.5 0 1,0 -9,0zM317.2,400.5a4.5,4.5 0 1,0 9,0a4.5,4.5 0 1,0 -9,0zM328.3,399.4a4.5,4.5 0 1,0 9,0a4.5,4.5 0 1,0 -9,0zM339.8,397.6a4.5,4.5 0 1,0 9,0a4.5,4.5 0 1,0 -9,0zM351.9,395.8a4.5,4.5 0 1,0 9,0a4.5,4.5 0 1,0 -9,0zM364.5,395.8a4.5,4.5 0 1,0 9,0a4.5,4.5 0 1,0 -9,0zM377.8,395.2a4.5,4.5 0 1,0 9,0a4.5,4.5 0 1,0 -9,0zM391.7,394.6a4.5,4.5 0 1,0 9,0a4.5,4.5 0 1,0 -9,0zM406.2,394.8a4.5,4.5 0 1,0 9,0a4.5,4.5 0 1,0 -9,0zM421.4,395.2a4.5,4.5 0 1,0 9,0a4.5,4.5 0 1,0 -9,0zM437.3,392.5a4.5,4.5 0 1,0 9,0a4.5,4.5 0 1,0 -9,0zM454.0,392.4a4.5,4.5 0 1,0 9,0a4.5,4.5 0 1,0 -9,0zM471.5,402.3a4.5,4.5 0 1,0 9,0a4.5,4.5 0 1,0 -9,0zM489.8,404.7a4.5,4.5 0 1,0 9,0a4.5,4.5 0 1,0 -9,0zM508.9,402.6a4.5,4.5 0 1,0 9,0a4.5,4.5 0 1,0 -9,0zM529.0,402.4a4.5,4.5 0 1,0 9,0a4.5,4.5 0 1,0 -9,0zM550.0,402.2a4.5,4.5 0 1,0 9,0a4.5,4.5 0 1,0 -9,0zM572.0,401.5a4.5,4.5 0 1,0 9,0a4.5,4.5 0 1,0 -9,0zM595.0,396.0a4.5,4.5 0 1,0 9,0a4.5,4.5 0 1,0 -9,0z" fill="#0000ff"/>
<path d="M114.1,395.1L114.2,395.9M115.3,407.1L115.4,407.9M120.7,405.9L121.1,402.1M129.4,394.0L129.6,393.0M137.5,394.1L138.3,400.9M145.2,400.0L145.4,399.0M163.0,395.0L164.1,400.0M174.1,401.0L175.5,407.0M182.9,407.2L183.5,405.8M191.9,395.3L192.8,392.9M213.0,387.6L214.1,390.0M349.5,401.2L351.2,400.6M361.9,397.5L363.5,397.1M374.5,397.3L376.8,397.9M387.9,399.3L390.6,399.5M401.8,400.1L405.1,400.4M416.3,400.8L420.3,400.8M431.5,400.8L436.2,400.8M447.4,400.8L452.9,400.8M463.7,403.0L470.8,406.1M481.6,408.6L488.7,408.9M499.9,409.6L507.8,410.1M518.7,412.5L528.2,416.0M539.1,418.1L548.9,418.4M560.1,418.5L570.9,418.5M582.1,418.0L593.9,417.0" fill="none" stroke="#f00" stroke-width="2" stroke-linecap="round"/>
<path d="M91.0,371.0L96.0,380.0L86.0,380.0zM91.1,376.5L96.1,385.5L86.1,385.5zM91.3,382.0L96.3,391.0L86.3,391.0zM91.4,387.5L96.4,396.5L86.4,396.5zM91.6,382.0L96.6,391.0L86.6,391.0zM91.8,376.5L96.8,385.5L86.8,385.5zM92.0,371.0L97.0,380.0L87.0,380.0zM92.2,365.5L97.2,374.5L87.2,374.5zM92.4,371.0L97.4,380.0L87.4,380.0zM92.6,376.5L97.6,385.5L87.6,385.5zM92.8,382.0L97.8,391.0L87.8,391.0zM93.0,387.5L98.0,396.5L88.0,396.5zM93.3,382.0L98.3,391.0L88.3,391.0zM93.5,376.5L98.5,385.5L88.5,385.5zM93.8,371.0L98.8,380.0L88.8,380.0zM94.1,365.5L99.1,374.5L89.1,374.5zM94.3,371.0L99.3,380.0L89.3,380.0zM94.6,376.5L99.6,385.5L89.6,385.5zM95.0,382.0L100.0,391.0L90.0,391.0zM95.3,387.5L100.3,396.5L90.3,396.5zM95.6,382.0L100.6,391.0L90.6,391.0zM96.0,376.5L101.0,385.5L91.0,385.5zM96.4,371.0L101.4,380.0L91.4,380.0zM96.8,365.5L101.8,374.5L91.8,374.5zM97.2,371.0L102.2,380.0L92.2,380.0zM97.6,376.5L102.6,385.5L92.6,385.5zM98.1,382.0L103.1,391.0L93.1,391.0zM98.6,387.5L103.6,396.5L93.6,396.5zM99.1,382.0L104.1,391.0L94.1,391.0zM99.6,376.5L104.6,385.5L94.6,385.5zM100.2,371.0L105.2,380.0L95.2,380.0zM100.8,365.5L105.8,374.5L95.8,374.5zM101.4,371.0L106.4,380.0L96.4,380.0zM102.0,376.5L107.0,385.5L97.0,385.5zM102.7,382.0L107.7,391.0L97.7,391.0zM103.4,387.5L108.4,396.5L98.4,396.5zM104.1,385.5L109.1,394.5L99.1,394.5zM104.8,379.5L109.8,388.5L99.8,388.5zM105.6,373.5L110.6,382.5L100.6,382.5zM106.5,367.5L111.5,376.5L101.5,376.5zM107.4,373.5L112.4,382.5L102.4,382.5zM108.3,379.5L113.3,388.5L103.3,388.5zM109.2,375.5L114.2,384.5L104.2,384.5zM110.2,372.5L115.2,381.5L105.2,381.5zM111.3,373.5L116.3,382.5L106.3,382.5zM112.4,375.5L117.4,384.5L107.4,384.5zM113.5,383.5L118.5,392.5L108.5,392.5zM114.7,395.5L119.7,404.5L109.7,404.5zM116.0,407.5L121.0,416.5L111.0,416.5zM117.3,411.5L122.3,420.5L112.3,420.5zM118.7,410.5L123.7,419.5L113.7,419.5zM120.2,405.5L125.2,414.5L115.2,414.5zM121.7,390.5L126.7,399.5L116.7,399.5zM123.3,395.5L128.3,404.5L118.3,404.5zM125.0,399.5L130.0,408.5L120.0,408.5zM126.7,397.5L131.7,406.5L121.7,406.5zM128.5,393.5L133.5,402.5L123.5,402.5zM130.5,381.5L135.5,390.5L125.5,390.5zM132.5,376.5L137.5,385.5L127.5,385.5zM134.6,377.5L139.6,386.5L129.6,386.5zM136.8,382.5L141.8,391.5L131.8,391.5zM139.1,400.5L144.1,409.5L134.1,409.5zM141.5,401.5L146.5,410.5L136.5,410.5zM144.0,399.5L149.0,408.5L139.0,408.5zM146.6,387.5L151.6,396.5L141.6,396.5zM149.4,387.5L154.4,396.5L144.4,396.5zM152.3,383.5L157.3,392.5L147.3,392.5zM155.3,380.5L160.3,389.5L150.3,389.5zM158.5,377.0L163.5,386.0L153.5,386.0zM161.8,383.5L166.8,392.5L156.8,392.5zM165.3,399.5L170.3,408.5L160.3,408.5zM169.0,389.5L174.0,398.5L164.0,398.5zM172.8,389.5L177.8,398.5L167.8,398.5zM176.8,406.5L181.8,415.5L171.8,415.5zM181.0,406.5L186.0,415.5L176.0,415.5zM185.4,394.5L190.4,403.5L180.4,403.5zM190.0,394.5L195.0,403.5L185.0,403.5zM194.8,381.7L199.8,390.7L189.8,390.7zM199.8,378.8L204.8,387.8L194.8,387.8zM205.1,375.9L210.1,384.9L200.1,384.9zM210.6,376.5L215.6,385.5L205.6,385.5zM216.4,389.1L221.4,398.1L211.4,398.1zM222.5,391.4L227.5,400.4L217.5,400.4zM228.8,388.0L233.8,397.0L223.8,397.0zM235.4,388.0L240.4,397.0L230.4,397.0zM242.4,386.2L247.4,395.2L237.4,395.2zM249.7,388.1L254.7,397.1L244.7,397.1zM257.3,388.7L262.3,397.7L252.3,397.7zM265.3,387.5L270.3,396.5L260.3,396.5zM273.7,381.5L278.7,390.5L268.7,390.5zM282.4,382.1L287.4,391.1L277.4,391.1zM291.6,380.9L296.6,389.9L286.6,389.9zM301.2,385.1L306.2,394.1L296.2,394.1zM311.2,389.9L316.2,398.9L306.2,398.9zM321.7,393.0L326.7,402.0L316.7,402.0zM332.8,396.7L337.8,405.7L327.8,405.7zM344.3,397.3L349.3,406.3L339.3,406.3zM356.4,392.5L361.4,401.5L351.4,401.5zM369.0,390.1L374.0,399.1L364.0,399.1zM382.3,393.1L387.3,402.1L377.3,402.1zM396.2,393.7L401.2,402.7L391.2,402.7zM410.7,394.8L415.7,403.8L405.7,403.8zM425.9,394.8L430.9,403.8L420.9,403.8zM441.8,394.8L446.8,403.8L436.8,403.8zM458.5,394.8L463.5,403.8L453.5,403.8zM476.0,402.3L481.0,411.3L471.0,411.3zM494.3,403.2L499.3,412.2L489.3,412.2zM513.4,404.5L518.4,413.5L508.4,413.5zM533.5,412.0L538.5,421.0L528.5,421.0zM554.5,412.5L559.5,421.5L549.5,421.5zM576.5,412.5L581.5,421.5L571.5,421.5zM599.5,410.5L604.5,419.5L594.5,419.5z" fill="#ff00ff"/>
<path d="M122.1,399.1L122.9,410.9M123.5,410.9L124.8,372.1M125.8,372.0L125.9,373.0M127.6,384.0L127.7,385.0M170.3,402.4L171.5,407.1M183.1,412.3L183.3,411.7M213.3,402.6L213.8,401.6M338.2,413.6L338.8,413.4M349.7,410.7L351.0,410.3M362.0,408.7L363.4,408.7M374.6,409.2L376.7,409.4M387.9,409.9L390.6,409.9M401.8,410.0L405.1,410.1M416.3,410.6L420.3,410.9M431.5,411.7L436.3,412.0M447.4,413.3L453.0,414.3M464.0,416.3L470.5,417.7M481.5,417.9L488.8,416.7M499.9,415.5L507.8,415.2M519.0,414.5L527.9,413.9M539.1,413.2L548.9,412.8M560.1,412.2L570.9,411.8M582.1,411.0L593.9,410.0" fill="none" stroke="#f00" stroke-width="2" stroke-linecap="round"/>
<path d="M91.0,394.5L96.0,385.5L86.0,385.5zM91.1,402.5L96.1,393.5L86.1,393.5zM91.3,410.5L96.3,401.5L86.3,401.5zM91.4,419.0L96.4,410.0L86.4,410.0zM91.6,412.5L96.6,403.5L86.6,403.5zM91.8,404.5L96.8,395.5L86.8,395.5zM92.0,396.5L97.0,387.5L87.0,387.5zM92.2,388.0L97.2,379.0L87.2,379.0zM92.4,394.5L97.4,385.5L87.4,385.5zM92.6,402.5L97.6,393.5L87.6,393.5zM92.8,410.5L97.8,401.5L87.8,401.5zM93.0,419.0L98.0,410.0L88.0,410.0zM93.3,412.5L98.3,403.5L88.3,403.5zM93.5,404.5L98.5,395.5L88.5,395.5zM93.8,396.5L98.8,387.5L88.8,387.5zM94.1,399.0L99.1,390.0L89.1,390.0zM94.3,403.5L99.3,394.5L89.3,394.5zM94.6,408.5L99.6,399.5L89.6,399.5zM95.0,413.5L100.0,404.5L90.0,404.5zM95.3,419.0L100.3,410.0L90.3,410.0zM95.6,413.5L100.6,404.5L90.6,404.5zM96.0,408.5L101.0,399.5L91.0,399.5zM96.4,403.5L101.4,394.5L91.4,394.5zM96.8,399.0L101.8,390.0L91.8,390.0zM97.2,403.5L102.2,394.5L92.2,394.5zM97.6,408.5L102.6,399.5L92.6,399.5zM98.1,413.5L103.1,404.5L93.1,404.5zM98.6,419.0L103.6,410.0L93.6,410.0zM99.1,413.5L104.1,404.5L94.1,404.5zM99.6,408.5L104.6,399.5L94.6,399.5zM100.2,403.5L105.2,394.5L95.2,394.5zM100.8,399.0L105.8,390.0L95.8,390.0zM101.4,403.5L106.4,394.5L96.4,394.5zM102.0,408.5L107.0,399.5L97.0,399.5zM102.7,413.5L107.7,404.5L97.7,404.5zM103.4,404.5L108.4,395.5L98.4,395.5zM104.1,408.0L109.1,399.0L99.1,399.0zM104.8,404.5L109.8,395.5L99.8,395.5zM105.6,400.5L110.6,391.5L100.6,391.5zM106.5,396.5L111.5,387.5L101.5,387.5zM107.4,400.5L112.4,391.5L102.4,391.5zM108.3,404.5L113.3,395.5L103.3,395.5zM109.2,399.5L114.2,390.5L104.2,390.5zM110.2,392.5L115.2,383.5L105.2,383.5zM111.3,396.5L116.3,387.5L106.3,387.5zM112.4,402.5L117.4,393.5L107.4,393.5zM113.5,399.5L118.5,390.5L108.5,390.5zM114.7,389.5L119.7,380.5L109.7,380.5zM116.0,394.5L121.0,385.5L111.0,385.5zM117.3,404.5L122.3,395.5L112.3,395.5zM118.7,397.5L123.7,388.5L113.7,388.5zM120.2,389.5L125.2,380.5L115.2,380.5zM121.7,399.5L126.7,390.5L116.7,390.5zM123.3,422.5L128.3,413.5L118.3,413.5zM125.0,372.5L130.0,363.5L120.0,363.5zM126.7,384.5L131.7,375.5L121.7,375.5zM128.5,396.5L133.5,387.5L123.5,387.5zM130.5,402.5L135.5,393.5L125.5,393.5zM132.5,405.5L137.5,396.5L127.5,396.5zM134.6,407.5L139.6,398.5L129.6,398.5zM136.8,409.5L141.8,400.5L131.8,400.5zM139.1,418.5L144.1,409.5L134.1,409.5zM141.5,416.5L146.5,407.5L136.5,407.5zM144.0,409.5L149.0,400.5L139.0,400.5zM146.6,406.5L151.6,397.5L141.6,397.5zM149.4,409.5L154.4,400.5L144.4,400.5zM152.3,398.5L157.3,389.5L147.3,389.5zM155.3,398.5L160.3,389.5L150.3,389.5zM158.5,394.5L163.5,385.5L153.5,385.5zM161.8,390.0L166.8,381.0L156.8,381.0zM165.3,394.5L170.3,385.5L160.3,385.5zM169.0,403.0L174.0,394.0L164.0,394.0zM172.8,418.5L177.8,409.5L167.8,409.5zM176.8,423.5L181.8,414.5L171.8,414.5zM181.0,423.5L186.0,414.5L176.0,414.5zM185.4,412.5L190.4,403.5L180.4,403.5zM190.0,412.5L195.0,403.5L185.0,403.5zM194.8,402.1L199.8,393.1L189.8,393.1zM199.8,409.0L204.8,400.0L194.8,400.0zM205.1,410.7L210.1,401.7L200.1,401.7zM210.6,413.5L215.6,404.5L205.6,404.5zM216.4,402.7L221.4,393.7L211.4,393.7zM222.5,411.8L227.5,402.8L217.5,402.8zM228.8,412.4L233.8,403.4L223.8,403.4zM235.4,417.5L240.4,408.5L230.4,408.5zM242.4,414.7L247.4,405.7L237.4,405.7zM249.7,410.9L254.7,401.9L244.7,401.9zM257.3,407.3L262.3,398.3L252.3,398.3zM265.3,404.3L270.3,395.3L260.3,395.3zM273.7,408.5L278.7,399.5L268.7,399.5zM282.4,415.7L287.4,406.7L277.4,406.7zM291.6,415.7L296.6,406.7L286.6,406.7zM301.2,416.3L306.2,407.3L296.2,407.3zM311.2,417.5L316.2,408.5L306.2,408.5zM321.7,421.0L326.7,412.0L316.7,412.0zM332.8,420.7L337.8,411.7L327.8,411.7zM344.3,418.3L349.3,409.3L339.3,409.3zM356.4,414.7L361.4,405.7L351.4,405.7zM369.0,414.7L374.0,405.7L364.0,405.7zM382.3,415.9L387.3,406.9L377.3,406.9zM396.2,415.9L401.2,406.9L391.2,406.9zM410.7,416.2L415.7,407.2L405.7,407.2zM425.9,417.3L430.9,408.3L420.9,408.3zM441.8,418.4L446.8,409.4L436.8,409.4zM458.5,421.2L463.5,412.2L453.5,412.2zM476.0,424.8L481.0,415.8L471.0,415.8zM494.3,421.8L499.3,412.8L489.3,412.8zM513.4,420.9L518.4,411.9L508.4,411.9zM533.5,419.5L538.5,410.5L528.5,410.5zM554.5,418.5L559.5,409.5L549.5,409.5zM576.5,417.5L581.5,408.5L571.5,408.5zM599.5,415.5L604.5,406.5L594.5,406.5z" fill="#007a00"/>
</g>
<g stroke="#000" stroke-width="2.8" stroke-linecap="butt" fill="none">
<path d="M81,23.6H599.5"/>
<path d="M81,439.5H599.5"/>
<path d="M90,22.2V441"/>
<path d="M81,23.6H90"/>
<path d="M85,49.6H90"/>
<path d="M81,75.6H90"/>
<path d="M85,101.6H90"/>
<path d="M81,127.6H90"/>
<path d="M85,153.6H90"/>
<path d="M81,179.6H90"/>
<path d="M85,205.6H90"/>
<path d="M81,231.6H90"/>
<path d="M85,257.6H90"/>
<path d="M81,283.6H90"/>
<path d="M85,309.6H90"/>
<path d="M81,335.6H90"/>
<path d="M85,361.6H90"/>
<path d="M81,387.6H90"/>
<path d="M85,413.6H90"/>
<path d="M81,439.6H90"/>
<path d="M215.8,439 V448.5"/>
<path d="M343.7,439 V448.5"/>
<path d="M471.6,439 V448.5"/>
<path d="M599.5,439 V448.5"/>
<path d="M151.9,439 V444.4"/>
<path d="M279.8,439 V444.4"/>
<path d="M407.6,439 V444.4"/>
<path d="M535.5,439 V444.4"/>
</g>
<g stroke="#f00" stroke-width="2.8" fill="none">
<path d="M599.6,22.2V441"/>
<path d="M599.6,23.6H608.4"/>
<path d="M599.6,73.1H604.9"/>
<path d="M599.6,122.7H608.4"/>
<path d="M599.6,172.2H604.9"/>
<path d="M599.6,221.7H608.4"/>
<path d="M599.6,271.2H604.9"/>
<path d="M599.6,320.8H608.4"/>
<path d="M599.6,370.2H604.9"/>
<path d="M599.6,419.8H608.4"/>
<path d="M599.6,469.3H604.9"/>
</g>
<g font-size="24.5" fill="#000" text-anchor="end">
<text x="77" y="31.3">4.0</text>
<text x="77" y="83.3">3.5</text>
<text x="77" y="135.3">3.0</text>
<text x="77" y="187.3">2.5</text>
<text x="77" y="239.3">2.0</text>
<text x="77" y="291.3">1.5</text>
<text x="77" y="343.3">1.0</text>
<text x="77" y="395.3">0.5</text>
<text x="77" y="447.3">0.0</text>
</g>
<g font-size="24.5" fill="#000" text-anchor="middle">
<text x="215.8" y="471.7">5</text>
<text x="343.7" y="471.7">10</text>
<text x="471.6" y="471.7">15</text>
<text x="599.5" y="471.7">20</text>
</g>
<g font-size="24.5" fill="#f00" text-anchor="start">
<text x="611.8" y="31.3">0.20</text>
<text x="611.8" y="130.3">0.15</text>
<text x="611.8" y="229.4">0.10</text>
<text x="611.8" y="328.4">0.05</text>
<text x="611.8" y="427.5">0.00</text>
</g>
<text x="215" y="507.5" font-size="34.3" fill="#000">Frequency (MHz)</text>
<text transform="translate(37,362.5) rotate(-90)" x="0" y="0" font-size="31.3" fill="#000">Dielectric constant</text>
<path d="M103,174.4H158.7" stroke="#000" stroke-width="2.6"/>
<path d="M127.0,170.6h7.6v7.6h-7.6z" fill="#fff" stroke="#555" stroke-width="1.2"/>
<text x="164" y="182.4" font-size="21.5" fill="#000">BMS–1</text>
<path d="M103,205.7H158.7" stroke="#000" stroke-width="2.6"/>
<circle cx="130.8" cy="205.7" r="4.6" fill="#fff" stroke="#3a3aff" stroke-width="1.2"/>
<text x="164" y="213.7" font-size="21.5" fill="#000">BMS–2</text>
<path d="M103,237.2H158.7" stroke="#000" stroke-width="2.6"/>
<path d="M130.8,231.5L135.6,239.9L126.0,239.9z" fill="#fff" stroke="#ff3cff" stroke-width="1.2"/>
<text x="164" y="245.2" font-size="21.5" fill="#000">BMS–3</text>
<path d="M103,268.2H158.7" stroke="#000" stroke-width="2.6"/>
<path d="M130.8,274.4L136.0,265.0L125.6,265.0z" fill="#fff" stroke="#1a9a3a" stroke-width="1.2"/>
<text x="164" y="276.2" font-size="21.5" fill="#000">BMS–4</text>
<path d="M442,236.5H494.5" stroke="#f00" stroke-width="2.2"/>
<path d="M465.4,233.0h7v7h-7z" fill="#000"/>
<text x="500.5" y="243.7" font-size="21.5" fill="#000">BMS–1</text>
<path d="M442,265.7H494.5" stroke="#f00" stroke-width="2.2"/>
<circle cx="468.9" cy="265.7" r="4.3" fill="#0000ff"/>
<text x="500.5" y="272.9" font-size="21.5" fill="#000">BMS–2</text>
<path d="M442,294.6H494.5" stroke="#f00" stroke-width="2.2"/>
<path d="M468.9,289.6L473.4,297.6L464.4,297.6z" fill="#ff00ff"/>
<text x="500.5" y="301.8" font-size="21.5" fill="#000">BMS–3</text>
<path d="M442,323.6H494.5" stroke="#f00" stroke-width="2.2"/>
<path d="M468.9,329.4L473.4,320.8L464.4,320.8z" fill="#007a00"/>
<text x="500.5" y="330.8" font-size="21.5" fill="#000">BMS–4</text>
</svg></body></html>
